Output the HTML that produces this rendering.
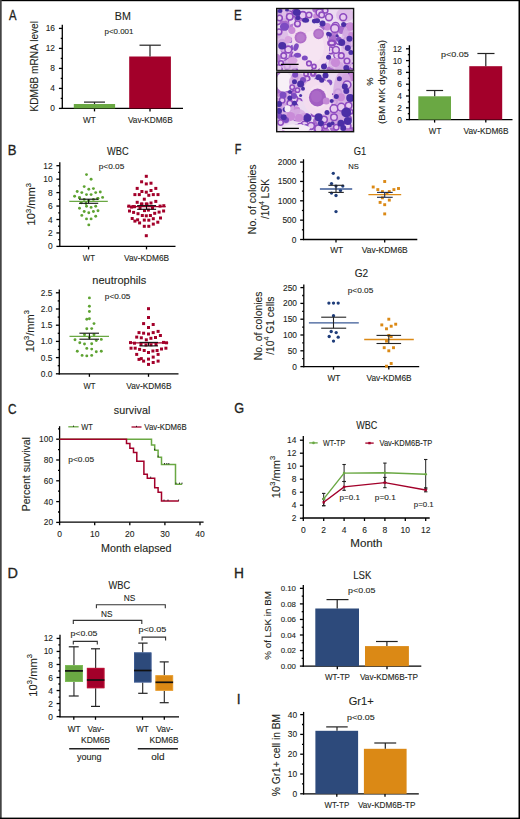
<!DOCTYPE html>
<html><head><meta charset="utf-8"><style>
html,body{margin:0;padding:0;background:#fff;overflow:hidden;width:520px;height:819px;}
svg{display:block;}
text{font-family:"Liberation Sans",sans-serif;stroke:#231f20;stroke-width:0.1px;}
</style></head><body>
<svg width="520" height="819" viewBox="0 0 520 819">
<rect x="0" y="0" width="520" height="819" fill="#fff"/>
<defs>
<clipPath id="m1"><rect x="277.2" y="9" width="75.9" height="61"/></clipPath>
<clipPath id="m2"><rect x="277.2" y="72.8" width="75.9" height="58.4"/></clipPath>
<filter id="bl" x="-5%" y="-5%" width="110%" height="110%"><feGaussianBlur stdDeviation="0.7"/></filter>
</defs>
<g clip-path="url(#m1)"><g filter="url(#bl)">
<rect x="276" y="8" width="79" height="64" fill="#ecdcf1"/>
<ellipse cx="286.61" cy="62.24" rx="3.38" ry="3.38" fill="#a86ccc"/>
<ellipse cx="336.12" cy="38.22" rx="2.8" ry="2.8" fill="#e8cbef" stroke="#8e4cc0" stroke-width="1.54"/>
<ellipse cx="346.57" cy="32.95" rx="4.15" ry="4.15" fill="#b67ad2"/>
<ellipse cx="311.19" cy="54.18" rx="3.65" ry="3.65" fill="#e8cbef" stroke="#8e4cc0" stroke-width="1.75"/>
<ellipse cx="278.42" cy="9.63" rx="4.41" ry="4.41" fill="#a86ccc"/>
<ellipse cx="330.23" cy="70.02" rx="3.79" ry="3.79" fill="#a86ccc"/>
<ellipse cx="350.19" cy="43.38" rx="3.34" ry="3.34" fill="#e8cbef" stroke="#8e4cc0" stroke-width="1.68"/>
<ellipse cx="351.23" cy="67.3" rx="3.61" ry="3.61" fill="#e8cbef" stroke="#8e4cc0" stroke-width="1.76"/>
<ellipse cx="283.9" cy="48.28" rx="3.44" ry="3.44" fill="#b67ad2"/>
<ellipse cx="302.28" cy="54.18" rx="4.4" ry="4.4" fill="#a86ccc"/>
<ellipse cx="316.11" cy="66.25" rx="2.78" ry="2.78" fill="#e8cbef" stroke="#8e4cc0" stroke-width="1.79"/>
<ellipse cx="315.45" cy="68.22" rx="3.64" ry="3.64" fill="#e8cbef" stroke="#8e4cc0" stroke-width="1.54"/>
<ellipse cx="334.75" cy="33.87" rx="3.55" ry="3.55" fill="#b67ad2"/>
<ellipse cx="337.29" cy="55.25" rx="3.49" ry="3.49" fill="#e8cbef" stroke="#8e4cc0" stroke-width="1.35"/>
<ellipse cx="288.93" cy="61.76" rx="3.49" ry="3.49" fill="#e8cbef" stroke="#8e4cc0" stroke-width="1.53"/>
<ellipse cx="300.37" cy="62.29" rx="3.87" ry="3.87" fill="#b67ad2"/>
<ellipse cx="289.46" cy="40.14" rx="2.97" ry="2.97" fill="#7d4cc2"/>
<ellipse cx="318.63" cy="63.06" rx="3.08" ry="3.08" fill="#e8cbef" stroke="#8e4cc0" stroke-width="1.78"/>
<ellipse cx="321.65" cy="37.38" rx="3.12" ry="3.12" fill="#e8cbef" stroke="#8e4cc0" stroke-width="1.78"/>
<ellipse cx="276.45" cy="58.15" rx="4.33" ry="4.33" fill="#b67ad2"/>
<ellipse cx="316.49" cy="16.27" rx="3.31" ry="3.31" fill="#c98bd8"/>
<ellipse cx="314.01" cy="31.34" rx="4.41" ry="4.41" fill="#a86ccc"/>
<ellipse cx="314.31" cy="30.83" rx="3.19" ry="3.19" fill="#e8cbef" stroke="#8e4cc0" stroke-width="1.61"/>
<ellipse cx="324.38" cy="37.32" rx="2.9" ry="2.9" fill="#e8cbef" stroke="#8e4cc0" stroke-width="1.39"/>
<ellipse cx="322.17" cy="63.1" rx="4.2" ry="4.2" fill="#a86ccc"/>
<ellipse cx="278.56" cy="68.39" rx="3.67" ry="3.67" fill="#e8cbef" stroke="#8e4cc0" stroke-width="1.53"/>
<ellipse cx="335.58" cy="26" rx="3.64" ry="3.64" fill="#e8cbef" stroke="#8e4cc0" stroke-width="1.39"/>
<ellipse cx="298.93" cy="18.72" rx="3.72" ry="3.72" fill="#e8cbef" stroke="#8e4cc0" stroke-width="1.63"/>
<ellipse cx="327.21" cy="26.85" rx="3.74" ry="3.74" fill="#c98bd8"/>
<ellipse cx="277.87" cy="32.74" rx="2.87" ry="2.87" fill="#e8cbef" stroke="#8e4cc0" stroke-width="1.35"/>
<ellipse cx="347.09" cy="40.65" rx="3.23" ry="3.23" fill="#e8cbef" stroke="#8e4cc0" stroke-width="1.71"/>
<ellipse cx="277.64" cy="9.14" rx="3.54" ry="3.54" fill="#e8cbef" stroke="#8e4cc0" stroke-width="1.38"/>
<ellipse cx="331.66" cy="51.4" rx="3.33" ry="3.33" fill="#b67ad2"/>
<ellipse cx="339.03" cy="41.06" rx="3.39" ry="3.39" fill="#e8cbef" stroke="#8e4cc0" stroke-width="1.5"/>
<ellipse cx="321.49" cy="28.56" rx="3.09" ry="3.09" fill="#a86ccc"/>
<ellipse cx="285.93" cy="21.58" rx="2.72" ry="2.72" fill="#e8cbef" stroke="#8e4cc0" stroke-width="1.34"/>
<ellipse cx="348.46" cy="27.06" rx="3.35" ry="3.35" fill="#e8cbef" stroke="#8e4cc0" stroke-width="1.37"/>
<ellipse cx="320.3" cy="62.43" rx="3.33" ry="3.33" fill="#b67ad2"/>
<ellipse cx="312.41" cy="60.99" rx="2.98" ry="2.98" fill="#7d4cc2"/>
<ellipse cx="325.21" cy="10.4" rx="2.64" ry="2.64" fill="#e8cbef" stroke="#8e4cc0" stroke-width="1.59"/>
<ellipse cx="346.83" cy="45.85" rx="3.77" ry="3.77" fill="#e8cbef" stroke="#8e4cc0" stroke-width="1.5"/>
<ellipse cx="315.82" cy="9.1" rx="3.6" ry="3.6" fill="#a86ccc"/>
<ellipse cx="277.43" cy="20.85" rx="3.74" ry="3.74" fill="#e8cbef" stroke="#8e4cc0" stroke-width="1.69"/>
<ellipse cx="302.79" cy="21.63" rx="4.26" ry="4.26" fill="#b67ad2"/>
<ellipse cx="303.16" cy="64.47" rx="3.73" ry="3.73" fill="#b67ad2"/>
<ellipse cx="294.54" cy="54.43" rx="2.64" ry="2.64" fill="#e8cbef" stroke="#8e4cc0" stroke-width="1.76"/>
<ellipse cx="292.82" cy="56.58" rx="4.26" ry="4.26" fill="#a86ccc"/>
<ellipse cx="302.77" cy="15.29" rx="3.68" ry="3.68" fill="#e8cbef" stroke="#8e4cc0" stroke-width="1.69"/>
<ellipse cx="332.49" cy="39.28" rx="4.16" ry="4.16" fill="#a86ccc"/>
<ellipse cx="279.09" cy="12.68" rx="2.99" ry="2.99" fill="#7d4cc2"/>
<ellipse cx="341.45" cy="29.82" rx="4.17" ry="4.17" fill="#a86ccc"/>
<ellipse cx="282.06" cy="43.22" rx="4.43" ry="4.43" fill="#a86ccc"/>
<ellipse cx="346.37" cy="44.12" rx="2.66" ry="2.66" fill="#7d4cc2"/>
<ellipse cx="297.9" cy="58.37" rx="3.02" ry="3.02" fill="#b67ad2"/>
<ellipse cx="277.15" cy="34.47" rx="4.18" ry="4.18" fill="#c98bd8"/>
<ellipse cx="294.93" cy="71.24" rx="2.76" ry="2.76" fill="#e8cbef" stroke="#8e4cc0" stroke-width="1.38"/>
<ellipse cx="295.07" cy="55.62" rx="3.74" ry="3.74" fill="#e8cbef" stroke="#8e4cc0" stroke-width="1.49"/>
<ellipse cx="352.65" cy="66.19" rx="2.86" ry="2.86" fill="#e8cbef" stroke="#8e4cc0" stroke-width="1.54"/>
<ellipse cx="283.91" cy="49.73" rx="2.42" ry="2.42" fill="#e8cbef" stroke="#8e4cc0" stroke-width="1.79"/>
<ellipse cx="299.35" cy="46.18" rx="3.04" ry="3.04" fill="#e8cbef" stroke="#8e4cc0" stroke-width="1.33"/>
<ellipse cx="348.16" cy="70.07" rx="2.31" ry="2.31" fill="#7d4cc2"/>
<ellipse cx="293" cy="47.54" rx="2.74" ry="2.74" fill="#7d4cc2"/>
<ellipse cx="330.37" cy="50.36" rx="3.28" ry="3.28" fill="#e8cbef" stroke="#8e4cc0" stroke-width="1.45"/>
<ellipse cx="295.46" cy="13.21" rx="3.82" ry="3.82" fill="#e8cbef" stroke="#8e4cc0" stroke-width="1.52"/>
<ellipse cx="327.51" cy="49.18" rx="2.59" ry="2.59" fill="#7d4cc2"/>
<ellipse cx="300.24" cy="28.94" rx="3.53" ry="3.53" fill="#e8cbef" stroke="#8e4cc0" stroke-width="1.75"/>
<ellipse cx="299.92" cy="29.4" rx="3.87" ry="3.87" fill="#b67ad2"/>
<ellipse cx="283.27" cy="22.09" rx="3.6" ry="3.6" fill="#a86ccc"/>
<ellipse cx="319.55" cy="12.54" rx="3.4" ry="3.4" fill="#e8cbef" stroke="#8e4cc0" stroke-width="1.45"/>
<ellipse cx="338.58" cy="39.57" rx="2.35" ry="2.35" fill="#7d4cc2"/>
<ellipse cx="315.61" cy="58.88" rx="3.84" ry="3.84" fill="#e8cbef" stroke="#8e4cc0" stroke-width="1.39"/>
<ellipse cx="337.32" cy="71.03" rx="3.48" ry="3.48" fill="#c98bd8"/>
<ellipse cx="332.04" cy="61.42" rx="3.19" ry="3.19" fill="#c98bd8"/>
<ellipse cx="287.19" cy="66.27" rx="2.84" ry="2.84" fill="#e8cbef" stroke="#8e4cc0" stroke-width="1.75"/>
<ellipse cx="339.5" cy="66.06" rx="4.12" ry="4.12" fill="#b67ad2"/>
<ellipse cx="292.23" cy="27.13" rx="3.07" ry="3.07" fill="#b67ad2"/>
<ellipse cx="295.54" cy="57.78" rx="3.67" ry="3.67" fill="#a86ccc"/>
<ellipse cx="319.39" cy="42.65" rx="2.65" ry="2.65" fill="#7d4cc2"/>
<ellipse cx="307.26" cy="29.67" rx="2.52" ry="2.52" fill="#e8cbef" stroke="#8e4cc0" stroke-width="1.62"/>
<ellipse cx="308.92" cy="44.52" rx="3.08" ry="3.08" fill="#e8cbef" stroke="#8e4cc0" stroke-width="1.37"/>
<ellipse cx="285.89" cy="24.58" rx="3.6" ry="3.6" fill="#a86ccc"/>
<ellipse cx="289.6" cy="13.71" rx="2.8" ry="2.8" fill="#e8cbef" stroke="#8e4cc0" stroke-width="1.46"/>
<ellipse cx="346.55" cy="66.91" rx="2.84" ry="2.84" fill="#7d4cc2"/>
<ellipse cx="293.83" cy="28.03" rx="4.43" ry="4.43" fill="#b67ad2"/>
<ellipse cx="308.57" cy="43.87" rx="3.12" ry="3.12" fill="#7d4cc2"/>
<ellipse cx="284" cy="15" rx="7" ry="6" fill="#dcb8e6" opacity="0.8"/>
<ellipse cx="345" cy="15" rx="9" ry="7" fill="#dcb8e6" opacity="0.8"/>
<ellipse cx="283" cy="40" rx="6" ry="12" fill="#dcb8e6" opacity="0.8"/>
<ellipse cx="348" cy="45" rx="7" ry="20" fill="#dcb8e6" opacity="0.8"/>
<ellipse cx="340" cy="64" rx="12" ry="6" fill="#dcb8e6" opacity="0.8"/>
<ellipse cx="290" cy="65" rx="10" ry="5" fill="#dcb8e6" opacity="0.8"/>
<path d="M294,23 C302,19 312,22 320,27 C327,32 330,42 329,52 C328,60 325,67 318,69 L300,69 C295,64 293,56 293,48 C292,40 291,30 294,23 Z" fill="#f3dcef"/>
<ellipse cx="312" cy="47" rx="12" ry="16" fill="#f6e6f3" opacity="0.8"/>
<ellipse cx="300.6" cy="37.6" rx="6" ry="6" fill="#b06ec8"/>
<ellipse cx="300.6" cy="37.6" rx="4.2" ry="4.2" fill="#bd80d0" opacity="0.7"/>
<ellipse cx="318.6" cy="33.8" rx="5.4" ry="5.4" fill="#b06ec8"/>
<ellipse cx="318.6" cy="33.8" rx="3.6" ry="3.6" fill="#bd80d0" opacity="0.7"/>
<ellipse cx="291.8" cy="30.3" rx="3.6" ry="3.6" fill="#c98bd8"/>
<ellipse cx="288.3" cy="39.5" rx="3.6" ry="3.6" fill="#d8a4e0"/>
<ellipse cx="292.5" cy="60.5" rx="5" ry="3.6" fill="#d8a4e0"/>
<ellipse cx="335.5" cy="62.6" rx="4.6" ry="4.6" fill="#c98bd8"/>
<ellipse cx="350.2" cy="26.5" rx="4.2" ry="4.2" fill="#c98bd8"/>
<ellipse cx="351" cy="36" rx="3" ry="4" fill="#c98bd8"/>
<ellipse cx="289.8" cy="16.8" rx="3.28" ry="3.28" fill="#e8cbef" stroke="#8e4cc0" stroke-width="1.6"/>
<ellipse cx="297.5" cy="23.8" rx="2.8" ry="2.8" fill="#e8cbef" stroke="#8e4cc0" stroke-width="1.6"/>
<ellipse cx="279.5" cy="18" rx="2.8" ry="2.8" fill="#e8cbef" stroke="#8e4cc0" stroke-width="1.6"/>
<ellipse cx="288.3" cy="49.5" rx="3.4" ry="3.4" fill="#e8cbef" stroke="#8e4cc0" stroke-width="1.6"/>
<ellipse cx="283.7" cy="55.7" rx="2.8" ry="2.8" fill="#e8cbef" stroke="#8e4cc0" stroke-width="1.6"/>
<ellipse cx="309" cy="63.4" rx="2.32" ry="2.32" fill="#e8cbef" stroke="#8e4cc0" stroke-width="1.6"/>
<ellipse cx="279" cy="31.8" rx="2.8" ry="2.8" fill="#e8cbef" stroke="#8e4cc0" stroke-width="1.6"/>
<ellipse cx="309" cy="15" rx="2.8" ry="2.8" fill="#e8cbef" stroke="#8e4cc0" stroke-width="1.6"/>
<ellipse cx="334.8" cy="28.4" rx="4" ry="4" fill="#e8cbef" stroke="#8e4cc0" stroke-width="1.6"/>
<ellipse cx="335.9" cy="49.9" rx="3.4" ry="3.4" fill="#e8cbef" stroke="#8e4cc0" stroke-width="1.6"/>
<ellipse cx="341.3" cy="55.7" rx="2.8" ry="2.8" fill="#e8cbef" stroke="#8e4cc0" stroke-width="1.6"/>
<ellipse cx="329" cy="17.2" rx="3.4" ry="3.4" fill="#e8cbef" stroke="#8e4cc0" stroke-width="1.6"/>
<ellipse cx="321.7" cy="14.9" rx="2.8" ry="2.8" fill="#e8cbef" stroke="#8e4cc0" stroke-width="1.6"/>
<ellipse cx="343.2" cy="17.2" rx="3.4" ry="3.4" fill="#e8cbef" stroke="#8e4cc0" stroke-width="1.6"/>
<ellipse cx="347" cy="61" rx="2.8" ry="2.8" fill="#e8cbef" stroke="#8e4cc0" stroke-width="1.6"/>
<ellipse cx="281" cy="63" rx="2.32" ry="2.32" fill="#e8cbef" stroke="#8e4cc0" stroke-width="1.6"/>
<ellipse cx="314" cy="66.5" rx="2.08" ry="2.08" fill="#e8cbef" stroke="#8e4cc0" stroke-width="1.6"/>
<ellipse cx="331.7" cy="43" rx="3.45" ry="2.45" fill="#e8cbef" stroke="#8e4cc0" stroke-width="2.3"/>
<ellipse cx="284.5" cy="26.8" rx="4.6" ry="4" fill="#7d4cc2"/>
<ellipse cx="296" cy="47.2" rx="2.5" ry="4" fill="#7d4cc2" transform="rotate(20 296 47.2)"/>
<ellipse cx="297.5" cy="55.3" rx="3.6" ry="2.5" fill="#7d4cc2"/>
<ellipse cx="304.8" cy="58" rx="3" ry="2.5" fill="#7d4cc2"/>
<ellipse cx="296.8" cy="12.6" rx="4" ry="3.5" fill="#4b2fa6"/>
<ellipse cx="297.9" cy="18" rx="2.5" ry="2.3" fill="#4b2fa6"/>
<ellipse cx="305.6" cy="20.3" rx="3.5" ry="2.5" fill="#4b2fa6"/>
<ellipse cx="314.5" cy="21.1" rx="2.6" ry="2.3" fill="#4b2fa6"/>
<ellipse cx="282.2" cy="45.7" rx="4" ry="3.8" fill="#4b2fa6"/>
<ellipse cx="317.1" cy="20.7" rx="3" ry="2.5" fill="#4b2fa6"/>
<ellipse cx="322.5" cy="23.4" rx="3" ry="3" fill="#4b2fa6"/>
<ellipse cx="329" cy="34.2" rx="3" ry="2.2" fill="#4b2fa6" transform="rotate(30 329 34.2)"/>
<ellipse cx="341.7" cy="42.6" rx="3.5" ry="3.5" fill="#4b2fa6"/>
<ellipse cx="343.6" cy="24.5" rx="2.5" ry="2.5" fill="#4b2fa6"/>
<ellipse cx="337" cy="35.7" rx="1.5" ry="1.5" fill="#4b2fa6"/>
<ellipse cx="347.8" cy="48" rx="3" ry="3" fill="#4b2fa6"/>
<ellipse cx="350.9" cy="52.6" rx="2.5" ry="2.5" fill="#4b2fa6"/>
<ellipse cx="324" cy="66.5" rx="3" ry="3" fill="#4b2fa6"/>
<ellipse cx="328.6" cy="57.2" rx="2.5" ry="2.5" fill="#4b2fa6"/>
<ellipse cx="346.3" cy="68" rx="3" ry="3" fill="#4b2fa6"/>
<ellipse cx="349.4" cy="38.8" rx="3" ry="3" fill="#4b2fa6"/>
<ellipse cx="280" cy="11" rx="2.5" ry="2" fill="#4b2fa6"/>
<ellipse cx="287" cy="10" rx="2" ry="1.6" fill="#4b2fa6"/>
</g>
<line x1="281" y1="64.3" x2="298.6" y2="64.3" stroke="#000" stroke-width="1.3"/>
</g>
<g clip-path="url(#m2)"><g filter="url(#bl)">
<rect x="276" y="71" width="79" height="64" fill="#ecdcf1"/>
<ellipse cx="351.53" cy="130.71" rx="2.55" ry="2.55" fill="#e8cbef" stroke="#8e4cc0" stroke-width="1.72"/>
<ellipse cx="334.14" cy="113.19" rx="3.29" ry="3.29" fill="#e8cbef" stroke="#8e4cc0" stroke-width="1.6"/>
<ellipse cx="321.92" cy="80.98" rx="2.98" ry="2.98" fill="#e8cbef" stroke="#8e4cc0" stroke-width="1.66"/>
<ellipse cx="354.59" cy="130.81" rx="3.67" ry="3.67" fill="#a86ccc"/>
<ellipse cx="347.2" cy="125.88" rx="3.63" ry="3.63" fill="#e8cbef" stroke="#8e4cc0" stroke-width="1.75"/>
<ellipse cx="309.47" cy="126.7" rx="2.82" ry="2.82" fill="#e8cbef" stroke="#8e4cc0" stroke-width="1.42"/>
<ellipse cx="289.96" cy="81.94" rx="3.54" ry="3.54" fill="#b67ad2"/>
<ellipse cx="329.28" cy="82.46" rx="3" ry="3" fill="#7d4cc2"/>
<ellipse cx="334.02" cy="128.12" rx="4.18" ry="4.18" fill="#a86ccc"/>
<ellipse cx="304.59" cy="125.11" rx="3.79" ry="3.79" fill="#e8cbef" stroke="#8e4cc0" stroke-width="1.5"/>
<ellipse cx="334.35" cy="112.26" rx="2.89" ry="2.89" fill="#e8cbef" stroke="#8e4cc0" stroke-width="1.55"/>
<ellipse cx="316.72" cy="121.16" rx="3.68" ry="3.68" fill="#a86ccc"/>
<ellipse cx="303.71" cy="116.73" rx="3.68" ry="3.68" fill="#b67ad2"/>
<ellipse cx="293.52" cy="91.45" rx="3.25" ry="3.25" fill="#b67ad2"/>
<ellipse cx="297.18" cy="128.42" rx="3.72" ry="3.72" fill="#e8cbef" stroke="#8e4cc0" stroke-width="1.65"/>
<ellipse cx="315.84" cy="103.62" rx="3.88" ry="3.88" fill="#a86ccc"/>
<ellipse cx="333.74" cy="101.8" rx="3.32" ry="3.32" fill="#e8cbef" stroke="#8e4cc0" stroke-width="1.74"/>
<ellipse cx="337.96" cy="92.51" rx="3.46" ry="3.46" fill="#e8cbef" stroke="#8e4cc0" stroke-width="1.8"/>
<ellipse cx="284.39" cy="107.19" rx="3.25" ry="3.25" fill="#e8cbef" stroke="#8e4cc0" stroke-width="1.64"/>
<ellipse cx="348.35" cy="118.53" rx="2.79" ry="2.79" fill="#e8cbef" stroke="#8e4cc0" stroke-width="1.71"/>
<ellipse cx="350.54" cy="74.8" rx="2.96" ry="2.96" fill="#7d4cc2"/>
<ellipse cx="280.49" cy="93.69" rx="2.65" ry="2.65" fill="#e8cbef" stroke="#8e4cc0" stroke-width="1.36"/>
<ellipse cx="281.33" cy="73.58" rx="2.57" ry="2.57" fill="#7d4cc2"/>
<ellipse cx="286.1" cy="129.97" rx="3.78" ry="3.78" fill="#c98bd8"/>
<ellipse cx="306.46" cy="73.72" rx="2.35" ry="2.35" fill="#7d4cc2"/>
<ellipse cx="278.87" cy="92.68" rx="4.11" ry="4.11" fill="#c98bd8"/>
<ellipse cx="298.6" cy="101.79" rx="3.22" ry="3.22" fill="#e8cbef" stroke="#8e4cc0" stroke-width="1.6"/>
<ellipse cx="279.62" cy="87.63" rx="3.42" ry="3.42" fill="#e8cbef" stroke="#8e4cc0" stroke-width="1.38"/>
<ellipse cx="351.74" cy="76.89" rx="4.26" ry="4.26" fill="#c98bd8"/>
<ellipse cx="311.38" cy="126.11" rx="3.31" ry="3.31" fill="#e8cbef" stroke="#8e4cc0" stroke-width="1.5"/>
<ellipse cx="316.67" cy="80.06" rx="2.46" ry="2.46" fill="#7d4cc2"/>
<ellipse cx="323.88" cy="97.44" rx="3.34" ry="3.34" fill="#e8cbef" stroke="#8e4cc0" stroke-width="1.37"/>
<ellipse cx="280.49" cy="73.11" rx="2.62" ry="2.62" fill="#e8cbef" stroke="#8e4cc0" stroke-width="1.62"/>
<ellipse cx="316.15" cy="132.96" rx="3.19" ry="3.19" fill="#7d4cc2"/>
<ellipse cx="294.37" cy="99.02" rx="3.26" ry="3.26" fill="#e8cbef" stroke="#8e4cc0" stroke-width="1.61"/>
<ellipse cx="339.22" cy="115.7" rx="3.07" ry="3.07" fill="#e8cbef" stroke="#8e4cc0" stroke-width="1.56"/>
<ellipse cx="276.38" cy="73.24" rx="2.61" ry="2.61" fill="#e8cbef" stroke="#8e4cc0" stroke-width="1.66"/>
<ellipse cx="295.03" cy="77.29" rx="2.9" ry="2.9" fill="#e8cbef" stroke="#8e4cc0" stroke-width="1.41"/>
<ellipse cx="317.14" cy="100.26" rx="3.43" ry="3.43" fill="#e8cbef" stroke="#8e4cc0" stroke-width="1.41"/>
<ellipse cx="347.62" cy="131.68" rx="3.65" ry="3.65" fill="#b67ad2"/>
<ellipse cx="277.68" cy="108.25" rx="3.13" ry="3.13" fill="#7d4cc2"/>
<ellipse cx="321.93" cy="129" rx="3.72" ry="3.72" fill="#c98bd8"/>
<ellipse cx="317.02" cy="129.05" rx="3.43" ry="3.43" fill="#a86ccc"/>
<ellipse cx="300.35" cy="126.08" rx="2.74" ry="2.74" fill="#e8cbef" stroke="#8e4cc0" stroke-width="1.4"/>
<ellipse cx="337.25" cy="123" rx="3.09" ry="3.09" fill="#b67ad2"/>
<ellipse cx="314.38" cy="84.12" rx="3.11" ry="3.11" fill="#a86ccc"/>
<ellipse cx="277.91" cy="90.27" rx="3.33" ry="3.33" fill="#a86ccc"/>
<ellipse cx="291.2" cy="107.01" rx="3.06" ry="3.06" fill="#e8cbef" stroke="#8e4cc0" stroke-width="1.68"/>
<ellipse cx="307.21" cy="78.67" rx="2.54" ry="2.54" fill="#e8cbef" stroke="#8e4cc0" stroke-width="1.73"/>
<ellipse cx="326.64" cy="131.46" rx="3.04" ry="3.04" fill="#b67ad2"/>
<ellipse cx="313.16" cy="73.72" rx="3.44" ry="3.44" fill="#a86ccc"/>
<ellipse cx="287.18" cy="94.62" rx="3.6" ry="3.6" fill="#e8cbef" stroke="#8e4cc0" stroke-width="1.66"/>
<ellipse cx="333.51" cy="97.39" rx="3.44" ry="3.44" fill="#e8cbef" stroke="#8e4cc0" stroke-width="1.5"/>
<ellipse cx="288.36" cy="108.58" rx="4.04" ry="4.04" fill="#b67ad2"/>
<ellipse cx="348.57" cy="107.91" rx="3.14" ry="3.14" fill="#a86ccc"/>
<ellipse cx="289.91" cy="105.35" rx="4.35" ry="4.35" fill="#c98bd8"/>
<ellipse cx="348" cy="113.93" rx="3.06" ry="3.06" fill="#a86ccc"/>
<ellipse cx="306.86" cy="115.63" rx="2.53" ry="2.53" fill="#7d4cc2"/>
<ellipse cx="289.63" cy="89.08" rx="3.69" ry="3.69" fill="#e8cbef" stroke="#8e4cc0" stroke-width="1.78"/>
<ellipse cx="309.47" cy="91.72" rx="3.28" ry="3.28" fill="#e8cbef" stroke="#8e4cc0" stroke-width="1.38"/>
<ellipse cx="288.44" cy="130.69" rx="3.7" ry="3.7" fill="#e8cbef" stroke="#8e4cc0" stroke-width="1.48"/>
<ellipse cx="336.38" cy="116.92" rx="3.38" ry="3.38" fill="#e8cbef" stroke="#8e4cc0" stroke-width="1.7"/>
<ellipse cx="306.28" cy="117.42" rx="2.65" ry="2.65" fill="#e8cbef" stroke="#8e4cc0" stroke-width="1.44"/>
<ellipse cx="296.04" cy="117.07" rx="3.4" ry="3.4" fill="#e8cbef" stroke="#8e4cc0" stroke-width="1.48"/>
<ellipse cx="319.26" cy="115.94" rx="2.28" ry="2.28" fill="#7d4cc2"/>
<ellipse cx="340.75" cy="116.72" rx="3.28" ry="3.28" fill="#b67ad2"/>
<ellipse cx="306.22" cy="126.5" rx="2.51" ry="2.51" fill="#7d4cc2"/>
<ellipse cx="317.36" cy="128.12" rx="2.86" ry="2.86" fill="#e8cbef" stroke="#8e4cc0" stroke-width="1.35"/>
<ellipse cx="307.83" cy="84.64" rx="3.58" ry="3.58" fill="#c98bd8"/>
<ellipse cx="345.89" cy="77.33" rx="4.15" ry="4.15" fill="#c98bd8"/>
<ellipse cx="297.68" cy="129.05" rx="3.73" ry="3.73" fill="#b67ad2"/>
<ellipse cx="286.89" cy="109.58" rx="2.84" ry="2.84" fill="#e8cbef" stroke="#8e4cc0" stroke-width="1.58"/>
<ellipse cx="312.9" cy="83.91" rx="2.27" ry="2.27" fill="#7d4cc2"/>
<ellipse cx="276.24" cy="101.58" rx="3.99" ry="3.99" fill="#b67ad2"/>
<ellipse cx="314.32" cy="113.51" rx="2.87" ry="2.87" fill="#e8cbef" stroke="#8e4cc0" stroke-width="1.55"/>
<ellipse cx="278.17" cy="76.03" rx="3.26" ry="3.26" fill="#a86ccc"/>
<ellipse cx="296.17" cy="110.38" rx="4.08" ry="4.08" fill="#c98bd8"/>
<ellipse cx="288.84" cy="95.04" rx="3.03" ry="3.03" fill="#e8cbef" stroke="#8e4cc0" stroke-width="1.31"/>
<ellipse cx="320.04" cy="131.92" rx="3.25" ry="3.25" fill="#e8cbef" stroke="#8e4cc0" stroke-width="1.49"/>
<ellipse cx="310.98" cy="125.84" rx="3.37" ry="3.37" fill="#e8cbef" stroke="#8e4cc0" stroke-width="1.54"/>
<ellipse cx="318.55" cy="128.63" rx="3.65" ry="3.65" fill="#e8cbef" stroke="#8e4cc0" stroke-width="1.45"/>
<ellipse cx="327.06" cy="121.14" rx="3.59" ry="3.59" fill="#c98bd8"/>
<ellipse cx="316.17" cy="84.27" rx="4.27" ry="4.27" fill="#c98bd8"/>
<ellipse cx="339.03" cy="110.62" rx="2.84" ry="2.84" fill="#e8cbef" stroke="#8e4cc0" stroke-width="1.53"/>
<ellipse cx="294.34" cy="88.48" rx="2.31" ry="2.31" fill="#7d4cc2"/>
<ellipse cx="284" cy="82" rx="8" ry="10" fill="#f7f0f7"/>
<ellipse cx="298" cy="82" rx="9" ry="9" fill="#d6ace2" opacity="0.85"/>
<ellipse cx="285" cy="108" rx="9" ry="16" fill="#d6ace2" opacity="0.85"/>
<ellipse cx="343" cy="95" rx="10" ry="25" fill="#d6ace2" opacity="0.85"/>
<ellipse cx="330" cy="120" rx="14" ry="8" fill="#d6ace2" opacity="0.85"/>
<ellipse cx="298" cy="115" rx="8" ry="6" fill="#d6ace2" opacity="0.85"/>
<path d="M307,82 C313,78 323,78 329,83 C333,90 333,103 330,110 C326,115 318,116 312,114 C306,111 303,104 303,96 C303,89 304,85 307,82 Z" fill="#f3dcef"/>
<ellipse cx="318" cy="97" rx="10" ry="12" fill="#f5e3f2" opacity="0.7"/>
<ellipse cx="317.5" cy="97.5" rx="8.6" ry="9" fill="#a25ec2"/>
<ellipse cx="316.5" cy="96.5" rx="5.5" ry="6" fill="#ae6cc8" opacity="0.8"/>
<ellipse cx="326.3" cy="101" rx="3.5" ry="3.5" fill="#c48ad6"/>
<ellipse cx="290.6" cy="116.4" rx="4.5" ry="4.5" fill="#c98bd8"/>
<ellipse cx="299" cy="118" rx="4" ry="4" fill="#c98bd8"/>
<ellipse cx="340.9" cy="97.2" rx="4" ry="4" fill="#c98bd8"/>
<ellipse cx="295.2" cy="74.8" rx="3" ry="3" fill="#7d4cc2"/>
<ellipse cx="292.2" cy="87.2" rx="2.24" ry="2.24" fill="#e8cbef" stroke="#8e4cc0" stroke-width="1.5"/>
<ellipse cx="297.5" cy="90.2" rx="2.12" ry="2.12" fill="#e8cbef" stroke="#8e4cc0" stroke-width="1.5"/>
<ellipse cx="282.2" cy="100.2" rx="2.7" ry="2.7" fill="#e8cbef" stroke="#8e4cc0" stroke-width="1.5"/>
<ellipse cx="289.8" cy="103.3" rx="2.7" ry="2.7" fill="#e8cbef" stroke="#8e4cc0" stroke-width="1.5"/>
<ellipse cx="280.6" cy="122.5" rx="2.7" ry="2.7" fill="#e8cbef" stroke="#8e4cc0" stroke-width="1.5"/>
<ellipse cx="347" cy="84.8" rx="3.85" ry="3.85" fill="#e8cbef" stroke="#8e4cc0" stroke-width="1.5"/>
<ellipse cx="334" cy="108.7" rx="3.85" ry="3.85" fill="#e8cbef" stroke="#8e4cc0" stroke-width="1.5"/>
<ellipse cx="341.3" cy="107.2" rx="3.85" ry="3.85" fill="#e8cbef" stroke="#8e4cc0" stroke-width="1.5"/>
<ellipse cx="348.6" cy="105.6" rx="3.27" ry="3.27" fill="#e8cbef" stroke="#8e4cc0" stroke-width="1.5"/>
<ellipse cx="350.9" cy="111.8" rx="2.12" ry="2.12" fill="#e8cbef" stroke="#8e4cc0" stroke-width="1.5"/>
<ellipse cx="324" cy="119.5" rx="3.27" ry="3.27" fill="#e8cbef" stroke="#8e4cc0" stroke-width="1.5"/>
<ellipse cx="334" cy="117.2" rx="3.27" ry="3.27" fill="#e8cbef" stroke="#8e4cc0" stroke-width="1.5"/>
<ellipse cx="336.3" cy="127.2" rx="2.7" ry="2.7" fill="#e8cbef" stroke="#8e4cc0" stroke-width="1.5"/>
<ellipse cx="325.5" cy="126.4" rx="2.12" ry="2.12" fill="#e8cbef" stroke="#8e4cc0" stroke-width="1.5"/>
<ellipse cx="306" cy="74" rx="2.12" ry="2.12" fill="#e8cbef" stroke="#8e4cc0" stroke-width="1.5"/>
<ellipse cx="313" cy="73.5" rx="1.89" ry="1.89" fill="#e8cbef" stroke="#8e4cc0" stroke-width="1.5"/>
<ellipse cx="283" cy="95" rx="3.5" ry="3.5" fill="#7d4cc2"/>
<ellipse cx="279.5" cy="116" rx="3" ry="3" fill="#7d4cc2"/>
<ellipse cx="286" cy="120" rx="3" ry="3" fill="#7d4cc2"/>
<ellipse cx="303" cy="80" rx="3" ry="3" fill="#7d4cc2"/>
<ellipse cx="294" cy="96" rx="3" ry="3" fill="#7d4cc2"/>
<ellipse cx="300.6" cy="84.1" rx="3.5" ry="3.5" fill="#4b2fa6"/>
<ellipse cx="294.5" cy="81.8" rx="2.5" ry="2.5" fill="#4b2fa6"/>
<ellipse cx="303" cy="88.7" rx="2" ry="2" fill="#4b2fa6"/>
<ellipse cx="279" cy="104" rx="3" ry="3" fill="#4b2fa6"/>
<ellipse cx="289.8" cy="98" rx="2.5" ry="2.5" fill="#4b2fa6"/>
<ellipse cx="294.5" cy="103.3" rx="2.5" ry="2.5" fill="#4b2fa6"/>
<ellipse cx="285.2" cy="109.5" rx="2.5" ry="2.5" fill="#4b2fa6"/>
<ellipse cx="283.7" cy="117.2" rx="3" ry="3" fill="#4b2fa6"/>
<ellipse cx="279" cy="111" rx="3" ry="3" fill="#4b2fa6"/>
<ellipse cx="307.5" cy="118" rx="4" ry="4" fill="#4b2fa6"/>
<ellipse cx="300.6" cy="95.6" rx="1.5" ry="1.5" fill="#4b2fa6"/>
<ellipse cx="318.6" cy="77.2" rx="3" ry="3" fill="#4b2fa6"/>
<ellipse cx="325.5" cy="75.6" rx="3" ry="3" fill="#4b2fa6"/>
<ellipse cx="321.7" cy="80.2" rx="2.5" ry="2.5" fill="#4b2fa6"/>
<ellipse cx="339.4" cy="78.7" rx="2.5" ry="2.5" fill="#4b2fa6"/>
<ellipse cx="344.8" cy="86.4" rx="3" ry="3" fill="#4b2fa6"/>
<ellipse cx="346.3" cy="91" rx="3" ry="3" fill="#4b2fa6"/>
<ellipse cx="336.3" cy="96.4" rx="2.5" ry="2.5" fill="#4b2fa6"/>
<ellipse cx="350.2" cy="98" rx="4" ry="4" fill="#4b2fa6"/>
<ellipse cx="331.7" cy="101" rx="2" ry="2" fill="#4b2fa6"/>
<ellipse cx="346.3" cy="112.5" rx="5" ry="5" fill="#4b2fa6"/>
<ellipse cx="318.6" cy="117.2" rx="4" ry="4" fill="#4b2fa6"/>
<ellipse cx="320.9" cy="123.3" rx="3" ry="3" fill="#4b2fa6"/>
<ellipse cx="329.4" cy="124.8" rx="2.5" ry="2.5" fill="#4b2fa6"/>
<ellipse cx="340.9" cy="123.3" rx="3.5" ry="3.5" fill="#4b2fa6"/>
<ellipse cx="347.8" cy="121" rx="4" ry="4" fill="#4b2fa6"/>
<ellipse cx="343.2" cy="127.9" rx="3" ry="3" fill="#4b2fa6"/>
<ellipse cx="327" cy="112.5" rx="2.5" ry="2.5" fill="#4b2fa6"/>
<ellipse cx="332.5" cy="123.3" rx="2" ry="2" fill="#4b2fa6"/>
<ellipse cx="290" cy="92" rx="2" ry="2" fill="#4b2fa6"/>
<ellipse cx="296" cy="128.5" rx="14" ry="4.2" fill="#f5ecf5"/>
<ellipse cx="287.5" cy="108.7" rx="3" ry="3.4" fill="#f6eef6"/>
<ellipse cx="301" cy="104" rx="3" ry="3" fill="#eedcf0"/>
</g>
<line x1="282.2" y1="128.4" x2="298.9" y2="128.4" stroke="#000" stroke-width="1.3"/>
</g>
<rect x="276.7" y="8.5" width="76.9" height="62" fill="none" stroke="#111" stroke-width="1.4"/>
<rect x="276.7" y="72.3" width="76.9" height="59.4" fill="none" stroke="#111" stroke-width="1.4"/>
<rect x="276" y="70.6" width="78.3" height="1.2" fill="#555"/>
<text x="8.9" y="19.6" font-size="13.8" text-anchor="start" fill="#231f20" textLength="7.52" lengthAdjust="spacingAndGlyphs" style="stroke-width:0.3px">A</text>
<text x="7.75" y="154.5" font-size="13.8" text-anchor="start" fill="#231f20" textLength="8.73" lengthAdjust="spacingAndGlyphs" style="stroke-width:0.3px">B</text>
<text x="8.01" y="413.8" font-size="13.8" text-anchor="start" fill="#231f20" textLength="8.53" lengthAdjust="spacingAndGlyphs" style="stroke-width:0.3px">C</text>
<text x="7.64" y="577.8" font-size="13.8" text-anchor="start" fill="#231f20" textLength="10.44" lengthAdjust="spacingAndGlyphs" style="stroke-width:0.3px">D</text>
<text x="233.98" y="19.9" font-size="13.8" text-anchor="start" fill="#231f20" textLength="7.71" lengthAdjust="spacingAndGlyphs" style="stroke-width:0.3px">E</text>
<text x="234.63" y="154.1" font-size="13.8" text-anchor="start" fill="#231f20" textLength="6.61" lengthAdjust="spacingAndGlyphs" style="stroke-width:0.3px">F</text>
<text x="234.27" y="413.4" font-size="13.8" text-anchor="start" fill="#231f20" textLength="9.86" lengthAdjust="spacingAndGlyphs" style="stroke-width:0.3px">G</text>
<text x="234.1" y="577.7" font-size="13.8" text-anchor="start" fill="#231f20" textLength="9.93" lengthAdjust="spacingAndGlyphs" style="stroke-width:0.3px">H</text>
<text x="236.7" y="704.3" font-size="13.8" text-anchor="start" fill="#231f20" style="stroke-width:0.3px">I</text>
<line x1="62.3" y1="24.8" x2="62.3" y2="109" stroke="#000" stroke-width="1.3"/>
<line x1="58.9" y1="108.4" x2="62.3" y2="108.4" stroke="#000" stroke-width="1.3"/>
<text x="55" y="111.42" font-size="8.4" text-anchor="end" fill="#231f20" >0</text>
<line x1="58.9" y1="88.4" x2="62.3" y2="88.4" stroke="#000" stroke-width="1.3"/>
<text x="55" y="91.42" font-size="8.4" text-anchor="end" fill="#231f20" >4</text>
<line x1="58.9" y1="68.4" x2="62.3" y2="68.4" stroke="#000" stroke-width="1.3"/>
<text x="55" y="71.42" font-size="8.4" text-anchor="end" fill="#231f20" >8</text>
<line x1="58.9" y1="48.4" x2="62.3" y2="48.4" stroke="#000" stroke-width="1.3"/>
<text x="55" y="51.42" font-size="8.4" text-anchor="end" fill="#231f20" >12</text>
<line x1="58.9" y1="28.4" x2="62.3" y2="28.4" stroke="#000" stroke-width="1.3"/>
<text x="55" y="31.42" font-size="8.4" text-anchor="end" fill="#231f20" >16</text>
<line x1="60.7" y1="98.4" x2="62.3" y2="98.4" stroke="#000" stroke-width="1.3"/>
<line x1="60.7" y1="78.4" x2="62.3" y2="78.4" stroke="#000" stroke-width="1.3"/>
<line x1="60.7" y1="58.4" x2="62.3" y2="58.4" stroke="#000" stroke-width="1.3"/>
<line x1="60.7" y1="38.4" x2="62.3" y2="38.4" stroke="#000" stroke-width="1.3"/>
<line x1="61.7" y1="108.4" x2="183" y2="108.4" stroke="#000" stroke-width="1.3"/>
<line x1="94.5" y1="108.4" x2="94.5" y2="111.4" stroke="#000" stroke-width="1.3"/>
<line x1="150" y1="108.4" x2="150" y2="111.4" stroke="#000" stroke-width="1.3"/>
<rect x="73.8" y="104" width="41.3" height="4.4" fill="#6aa843" />
<line x1="94.5" y1="104" x2="94.5" y2="102.1" stroke="#222" stroke-width="1.2"/>
<line x1="84" y1="102.1" x2="105" y2="102.1" stroke="#222" stroke-width="1.2"/>
<rect x="129.2" y="56.5" width="41.7" height="51.9" fill="#a3002a" />
<line x1="150" y1="56.5" x2="150" y2="45.2" stroke="#222" stroke-width="1.2"/>
<line x1="139.5" y1="45.2" x2="160.8" y2="45.2" stroke="#222" stroke-width="1.2"/>
<text x="114.74" y="20.1" font-size="10.3" text-anchor="start" fill="#231f20" textLength="16.07" lengthAdjust="spacingAndGlyphs" >BM</text>
<text x="104.48" y="33.8" font-size="7.9" text-anchor="start" fill="#231f20" textLength="29" lengthAdjust="spacingAndGlyphs" >p&lt;0.001</text>
<text x="82.96" y="123" font-size="8.4" text-anchor="start" fill="#231f20" textLength="12.8" lengthAdjust="spacingAndGlyphs" >WT</text>
<text x="127.96" y="123" font-size="8.4" text-anchor="start" fill="#231f20" textLength="44.67" lengthAdjust="spacingAndGlyphs" >Vav-KDM6B</text>
<text transform="translate(38.4 111.61) rotate(-90)" font-size="10" text-anchor="start" fill="#231f20" textLength="90.59" lengthAdjust="spacingAndGlyphs" >KDM6B mRNA level</text>
<line x1="59.8" y1="162.2" x2="59.8" y2="247" stroke="#000" stroke-width="1.3"/>
<line x1="56.4" y1="246.4" x2="59.8" y2="246.4" stroke="#000" stroke-width="1.3"/>
<text x="52.7" y="249.42" font-size="8.4" text-anchor="end" fill="#231f20" >0</text>
<line x1="56.4" y1="232.95" x2="59.8" y2="232.95" stroke="#000" stroke-width="1.3"/>
<text x="52.7" y="235.97" font-size="8.4" text-anchor="end" fill="#231f20" >2</text>
<line x1="56.4" y1="219.5" x2="59.8" y2="219.5" stroke="#000" stroke-width="1.3"/>
<text x="52.7" y="222.52" font-size="8.4" text-anchor="end" fill="#231f20" >4</text>
<line x1="56.4" y1="206.05" x2="59.8" y2="206.05" stroke="#000" stroke-width="1.3"/>
<text x="52.7" y="209.07" font-size="8.4" text-anchor="end" fill="#231f20" >6</text>
<line x1="56.4" y1="192.6" x2="59.8" y2="192.6" stroke="#000" stroke-width="1.3"/>
<text x="52.7" y="195.62" font-size="8.4" text-anchor="end" fill="#231f20" >8</text>
<line x1="56.4" y1="179.15" x2="59.8" y2="179.15" stroke="#000" stroke-width="1.3"/>
<text x="52.7" y="182.17" font-size="8.4" text-anchor="end" fill="#231f20" >10</text>
<line x1="56.4" y1="165.7" x2="59.8" y2="165.7" stroke="#000" stroke-width="1.3"/>
<text x="52.7" y="168.72" font-size="8.4" text-anchor="end" fill="#231f20" >12</text>
<line x1="58.2" y1="239.68" x2="59.8" y2="239.68" stroke="#000" stroke-width="1.3"/>
<line x1="58.2" y1="226.23" x2="59.8" y2="226.23" stroke="#000" stroke-width="1.3"/>
<line x1="58.2" y1="212.78" x2="59.8" y2="212.78" stroke="#000" stroke-width="1.3"/>
<line x1="58.2" y1="199.33" x2="59.8" y2="199.33" stroke="#000" stroke-width="1.3"/>
<line x1="58.2" y1="185.88" x2="59.8" y2="185.88" stroke="#000" stroke-width="1.3"/>
<line x1="58.2" y1="172.43" x2="59.8" y2="172.43" stroke="#000" stroke-width="1.3"/>
<line x1="59.2" y1="246.4" x2="175.5" y2="246.4" stroke="#000" stroke-width="1.3"/>
<line x1="88.6" y1="246.4" x2="88.6" y2="249.4" stroke="#000" stroke-width="1.3"/>
<line x1="146.5" y1="246.4" x2="146.5" y2="249.4" stroke="#000" stroke-width="1.3"/>
<text x="107.05" y="154.7" font-size="10.3" text-anchor="start" fill="#231f20" textLength="21.6" lengthAdjust="spacingAndGlyphs" >WBC</text>
<text x="98.76" y="168.5" font-size="7.9" text-anchor="start" fill="#231f20" textLength="25.58" lengthAdjust="spacingAndGlyphs" >p&lt;0.05</text>
<text x="82.86" y="261" font-size="8.4" text-anchor="start" fill="#231f20" textLength="12.09" lengthAdjust="spacingAndGlyphs" >WT</text>
<text x="123.96" y="261" font-size="8.4" text-anchor="start" fill="#231f20" textLength="45.18" lengthAdjust="spacingAndGlyphs" >Vav-KDM6B</text>
<text transform="translate(35.4 225.54) rotate(-90)" font-size="10.3" text-anchor="start" fill="#231f20" textLength="42.65" lengthAdjust="spacingAndGlyphs" >10<tspan font-size="7" dy="-4.64">3</tspan><tspan dy="4.64">/mm</tspan><tspan font-size="7" dy="-4.64">3</tspan></text>
<circle cx="86.5" cy="174.6" r="1.45" fill="#5ea332"/>
<circle cx="91.1" cy="179.2" r="1.45" fill="#5ea332"/>
<circle cx="84.2" cy="186.6" r="1.45" fill="#5ea332"/>
<circle cx="88.8" cy="189.2" r="1.45" fill="#5ea332"/>
<circle cx="93.4" cy="188.6" r="1.45" fill="#5ea332"/>
<circle cx="77.2" cy="191.5" r="1.45" fill="#5ea332"/>
<circle cx="81.8" cy="192.6" r="1.45" fill="#5ea332"/>
<circle cx="95.7" cy="192.6" r="1.45" fill="#5ea332"/>
<circle cx="100.3" cy="192" r="1.45" fill="#5ea332"/>
<circle cx="86.5" cy="194.6" r="1.45" fill="#5ea332"/>
<circle cx="91.1" cy="194.6" r="1.45" fill="#5ea332"/>
<circle cx="74.6" cy="196.2" r="1.45" fill="#5ea332"/>
<circle cx="79.5" cy="197.7" r="1.45" fill="#5ea332"/>
<circle cx="102.6" cy="197.4" r="1.45" fill="#5ea332"/>
<circle cx="98" cy="198.5" r="1.45" fill="#5ea332"/>
<circle cx="79.4" cy="197.8" r="1.45" fill="#5ea332"/>
<circle cx="84.2" cy="199.4" r="1.45" fill="#5ea332"/>
<circle cx="88.6" cy="200.4" r="1.45" fill="#5ea332"/>
<circle cx="93.4" cy="199.4" r="1.45" fill="#5ea332"/>
<circle cx="97.7" cy="198.5" r="1.45" fill="#5ea332"/>
<circle cx="81.3" cy="202.8" r="1.45" fill="#5ea332"/>
<circle cx="86" cy="203.5" r="1.45" fill="#5ea332"/>
<circle cx="79.5" cy="208.2" r="1.45" fill="#5ea332"/>
<circle cx="86.5" cy="206.2" r="1.45" fill="#5ea332"/>
<circle cx="91.1" cy="207.4" r="1.45" fill="#5ea332"/>
<circle cx="95.7" cy="206.2" r="1.45" fill="#5ea332"/>
<circle cx="84.2" cy="211.5" r="1.45" fill="#5ea332"/>
<circle cx="88.8" cy="212.8" r="1.45" fill="#5ea332"/>
<circle cx="93.4" cy="211.5" r="1.45" fill="#5ea332"/>
<circle cx="98" cy="210.8" r="1.45" fill="#5ea332"/>
<circle cx="81.8" cy="215.4" r="1.45" fill="#5ea332"/>
<circle cx="95.7" cy="216.2" r="1.45" fill="#5ea332"/>
<circle cx="86.5" cy="218.9" r="1.45" fill="#5ea332"/>
<circle cx="91.1" cy="218.9" r="1.45" fill="#5ea332"/>
<circle cx="88.8" cy="224.9" r="1.45" fill="#5ea332"/>
<rect x="144.8" y="174.8" width="3" height="3" fill="#a3002a"/>
<rect x="140.1" y="180.3" width="3" height="3" fill="#a3002a"/>
<rect x="144.8" y="182.4" width="3" height="3" fill="#a3002a"/>
<rect x="149.5" y="181.7" width="3" height="3" fill="#a3002a"/>
<rect x="135.7" y="186.9" width="3" height="3" fill="#a3002a"/>
<rect x="154.3" y="186.9" width="3" height="3" fill="#a3002a"/>
<rect x="140.4" y="190" width="3" height="3" fill="#a3002a"/>
<rect x="144.8" y="190.7" width="3" height="3" fill="#a3002a"/>
<rect x="149.5" y="189" width="3" height="3" fill="#a3002a"/>
<rect x="133.4" y="193.1" width="3" height="3" fill="#a3002a"/>
<rect x="137.8" y="193.1" width="3" height="3" fill="#a3002a"/>
<rect x="147.3" y="193.8" width="3" height="3" fill="#a3002a"/>
<rect x="151.8" y="193.1" width="3" height="3" fill="#a3002a"/>
<rect x="156.5" y="193.1" width="3" height="3" fill="#a3002a"/>
<rect x="142.8" y="197.7" width="3" height="3" fill="#a3002a"/>
<rect x="135.7" y="200.8" width="3" height="3" fill="#a3002a"/>
<rect x="140.4" y="202.5" width="3" height="3" fill="#a3002a"/>
<rect x="144.8" y="202.5" width="3" height="3" fill="#a3002a"/>
<rect x="149.5" y="201.5" width="3" height="3" fill="#a3002a"/>
<rect x="154.3" y="199.9" width="3" height="3" fill="#a3002a"/>
<rect x="127.3" y="204.6" width="3" height="3" fill="#a3002a"/>
<rect x="131.6" y="205.1" width="3" height="3" fill="#a3002a"/>
<rect x="158.6" y="204.6" width="3" height="3" fill="#a3002a"/>
<rect x="162.3" y="204.2" width="3" height="3" fill="#a3002a"/>
<rect x="128" y="209.5" width="3" height="3" fill="#a3002a"/>
<rect x="132.1" y="210.9" width="3" height="3" fill="#a3002a"/>
<rect x="136.5" y="212.2" width="3" height="3" fill="#a3002a"/>
<rect x="140.8" y="214" width="3" height="3" fill="#a3002a"/>
<rect x="144.8" y="214.3" width="3" height="3" fill="#a3002a"/>
<rect x="148.9" y="214" width="3" height="3" fill="#a3002a"/>
<rect x="153.2" y="211.8" width="3" height="3" fill="#a3002a"/>
<rect x="157.6" y="210.6" width="3" height="3" fill="#a3002a"/>
<rect x="162.1" y="209.5" width="3" height="3" fill="#a3002a"/>
<rect x="130.7" y="217" width="3" height="3" fill="#a3002a"/>
<rect x="133.4" y="219.6" width="3" height="3" fill="#a3002a"/>
<rect x="136.1" y="218.3" width="3" height="3" fill="#a3002a"/>
<rect x="138.1" y="221.4" width="3" height="3" fill="#a3002a"/>
<rect x="142.8" y="218.6" width="3" height="3" fill="#a3002a"/>
<rect x="147.3" y="218.7" width="3" height="3" fill="#a3002a"/>
<rect x="151.8" y="217.2" width="3" height="3" fill="#a3002a"/>
<rect x="159" y="216.5" width="3" height="3" fill="#a3002a"/>
<rect x="156.3" y="220.7" width="3" height="3" fill="#a3002a"/>
<rect x="151.8" y="222.6" width="3" height="3" fill="#a3002a"/>
<rect x="142.8" y="224.8" width="3" height="3" fill="#a3002a"/>
<rect x="147.3" y="224.8" width="3" height="3" fill="#a3002a"/>
<rect x="144.8" y="234.2" width="3" height="3" fill="#a3002a"/>
<rect x="130" y="205.6" width="3" height="3" fill="#a3002a"/>
<rect x="133" y="205.2" width="3" height="3" fill="#a3002a"/>
<rect x="139.9" y="202.6" width="3" height="3" fill="#a3002a"/>
<rect x="145.5" y="202.6" width="3" height="3" fill="#a3002a"/>
<rect x="143" y="209.1" width="3" height="3" fill="#a3002a"/>
<rect x="146.9" y="208.6" width="3" height="3" fill="#a3002a"/>
<rect x="138.5" y="207" width="3" height="3" fill="#a3002a"/>
<rect x="151" y="206.5" width="3" height="3" fill="#a3002a"/>
<line x1="69.3" y1="201.3" x2="107.8" y2="201.3" stroke="#6aa843" stroke-width="1.2"/>
<line x1="88.6" y1="199.2" x2="88.6" y2="203.3" stroke="#111" stroke-width="1.1"/>
<line x1="79" y1="199.2" x2="98.2" y2="199.2" stroke="#111" stroke-width="1.1"/>
<line x1="79" y1="203.3" x2="98.2" y2="203.3" stroke="#111" stroke-width="1.1"/>
<line x1="127.2" y1="206.7" x2="165.7" y2="206.7" stroke="#a3002a" stroke-width="1.3"/>
<line x1="146.5" y1="205.6" x2="146.5" y2="209.3" stroke="#111" stroke-width="1.1"/>
<line x1="137.1" y1="205.6" x2="156.1" y2="205.6" stroke="#111" stroke-width="1.1"/>
<line x1="137.1" y1="209.3" x2="156.1" y2="209.3" stroke="#111" stroke-width="1.1"/>
<line x1="59.3" y1="289.5" x2="59.3" y2="374.4" stroke="#000" stroke-width="1.3"/>
<line x1="55.9" y1="373.8" x2="59.3" y2="373.8" stroke="#000" stroke-width="1.3"/>
<text x="52.4" y="376.82" font-size="8.4" text-anchor="end" fill="#231f20" >0.0</text>
<line x1="55.9" y1="357.6" x2="59.3" y2="357.6" stroke="#000" stroke-width="1.3"/>
<text x="52.4" y="360.62" font-size="8.4" text-anchor="end" fill="#231f20" >0.5</text>
<line x1="55.9" y1="341.4" x2="59.3" y2="341.4" stroke="#000" stroke-width="1.3"/>
<text x="52.4" y="344.42" font-size="8.4" text-anchor="end" fill="#231f20" >1.0</text>
<line x1="55.9" y1="325.2" x2="59.3" y2="325.2" stroke="#000" stroke-width="1.3"/>
<text x="52.4" y="328.22" font-size="8.4" text-anchor="end" fill="#231f20" >1.5</text>
<line x1="55.9" y1="309" x2="59.3" y2="309" stroke="#000" stroke-width="1.3"/>
<text x="52.4" y="312.02" font-size="8.4" text-anchor="end" fill="#231f20" >2.0</text>
<line x1="55.9" y1="292.8" x2="59.3" y2="292.8" stroke="#000" stroke-width="1.3"/>
<text x="52.4" y="295.82" font-size="8.4" text-anchor="end" fill="#231f20" >2.5</text>
<line x1="57.7" y1="365.7" x2="59.3" y2="365.7" stroke="#000" stroke-width="1.3"/>
<line x1="57.7" y1="349.5" x2="59.3" y2="349.5" stroke="#000" stroke-width="1.3"/>
<line x1="57.7" y1="333.3" x2="59.3" y2="333.3" stroke="#000" stroke-width="1.3"/>
<line x1="57.7" y1="317.1" x2="59.3" y2="317.1" stroke="#000" stroke-width="1.3"/>
<line x1="57.7" y1="300.9" x2="59.3" y2="300.9" stroke="#000" stroke-width="1.3"/>
<line x1="58.7" y1="373.8" x2="178.5" y2="373.8" stroke="#000" stroke-width="1.3"/>
<line x1="89.4" y1="373.8" x2="89.4" y2="376.8" stroke="#000" stroke-width="1.3"/>
<line x1="148.5" y1="373.8" x2="148.5" y2="376.8" stroke="#000" stroke-width="1.3"/>
<text x="92.38" y="283.5" font-size="10.3" text-anchor="start" fill="#231f20" textLength="53.83" lengthAdjust="spacingAndGlyphs" >neutrophils</text>
<text x="104.86" y="298.9" font-size="7.9" text-anchor="start" fill="#231f20" textLength="25.48" lengthAdjust="spacingAndGlyphs" >p&lt;0.05</text>
<text x="83.56" y="388.8" font-size="8.4" text-anchor="start" fill="#231f20" textLength="11.99" lengthAdjust="spacingAndGlyphs" >WT</text>
<text x="126.26" y="388.8" font-size="8.4" text-anchor="start" fill="#231f20" textLength="45.18" lengthAdjust="spacingAndGlyphs" >Vav-KDM6B</text>
<text transform="translate(33.7 352.23) rotate(-90)" font-size="10.3" text-anchor="start" fill="#231f20" textLength="42.04" lengthAdjust="spacingAndGlyphs" >10<tspan font-size="7" dy="-4.64">3</tspan><tspan dy="4.64">/mm</tspan><tspan font-size="7" dy="-4.64">3</tspan></text>
<circle cx="89.4" cy="297.9" r="1.45" fill="#5ea332"/>
<circle cx="89.4" cy="306.3" r="1.45" fill="#5ea332"/>
<circle cx="89.4" cy="311.5" r="1.45" fill="#5ea332"/>
<circle cx="86.8" cy="319.3" r="1.45" fill="#5ea332"/>
<circle cx="89.4" cy="318.7" r="1.45" fill="#5ea332"/>
<circle cx="94" cy="323.6" r="1.45" fill="#5ea332"/>
<circle cx="86.8" cy="328.8" r="1.45" fill="#5ea332"/>
<circle cx="91.7" cy="328.6" r="1.45" fill="#5ea332"/>
<circle cx="84.5" cy="334.8" r="1.45" fill="#5ea332"/>
<circle cx="94" cy="334.8" r="1.45" fill="#5ea332"/>
<circle cx="89.4" cy="337.5" r="1.45" fill="#5ea332"/>
<circle cx="75" cy="339.8" r="1.45" fill="#5ea332"/>
<circle cx="101.3" cy="339.4" r="1.45" fill="#5ea332"/>
<circle cx="96.3" cy="340.6" r="1.45" fill="#5ea332"/>
<circle cx="79.8" cy="342.7" r="1.45" fill="#5ea332"/>
<circle cx="84.5" cy="344" r="1.45" fill="#5ea332"/>
<circle cx="91.7" cy="343.8" r="1.45" fill="#5ea332"/>
<circle cx="86.8" cy="348.4" r="1.45" fill="#5ea332"/>
<circle cx="91.7" cy="349.1" r="1.45" fill="#5ea332"/>
<circle cx="77.3" cy="351.3" r="1.45" fill="#5ea332"/>
<circle cx="96.3" cy="351.7" r="1.45" fill="#5ea332"/>
<circle cx="101.3" cy="351.3" r="1.45" fill="#5ea332"/>
<circle cx="82.1" cy="355.4" r="1.45" fill="#5ea332"/>
<circle cx="86.8" cy="355.9" r="1.45" fill="#5ea332"/>
<circle cx="91.7" cy="355.4" r="1.45" fill="#5ea332"/>
<rect x="147" y="307.2" width="3" height="3" fill="#a3002a"/>
<rect x="147" y="316" width="3" height="3" fill="#a3002a"/>
<rect x="142.1" y="322.1" width="3" height="3" fill="#a3002a"/>
<rect x="151.7" y="323" width="3" height="3" fill="#a3002a"/>
<rect x="147" y="326" width="3" height="3" fill="#a3002a"/>
<rect x="137.5" y="331.1" width="3" height="3" fill="#a3002a"/>
<rect x="142.1" y="331.7" width="3" height="3" fill="#a3002a"/>
<rect x="147" y="332.5" width="3" height="3" fill="#a3002a"/>
<rect x="151.7" y="331.1" width="3" height="3" fill="#a3002a"/>
<rect x="156.6" y="329.9" width="3" height="3" fill="#a3002a"/>
<rect x="135.2" y="335.6" width="3" height="3" fill="#a3002a"/>
<rect x="139.8" y="336.3" width="3" height="3" fill="#a3002a"/>
<rect x="144.8" y="338.3" width="3" height="3" fill="#a3002a"/>
<rect x="149.4" y="336.8" width="3" height="3" fill="#a3002a"/>
<rect x="154" y="336" width="3" height="3" fill="#a3002a"/>
<rect x="158.9" y="334" width="3" height="3" fill="#a3002a"/>
<rect x="129.5" y="346.7" width="3" height="3" fill="#a3002a"/>
<rect x="133.7" y="346.7" width="3" height="3" fill="#a3002a"/>
<rect x="138.1" y="347.9" width="3" height="3" fill="#a3002a"/>
<rect x="142.7" y="349" width="3" height="3" fill="#a3002a"/>
<rect x="147" y="351" width="3" height="3" fill="#a3002a"/>
<rect x="151.4" y="349.5" width="3" height="3" fill="#a3002a"/>
<rect x="155.6" y="349" width="3" height="3" fill="#a3002a"/>
<rect x="160" y="347.5" width="3" height="3" fill="#a3002a"/>
<rect x="164.4" y="346.7" width="3" height="3" fill="#a3002a"/>
<rect x="135.2" y="352.9" width="3" height="3" fill="#a3002a"/>
<rect x="156.6" y="352.9" width="3" height="3" fill="#a3002a"/>
<rect x="137.5" y="357.9" width="3" height="3" fill="#a3002a"/>
<rect x="139.8" y="357.1" width="3" height="3" fill="#a3002a"/>
<rect x="142.1" y="359.6" width="3" height="3" fill="#a3002a"/>
<rect x="147" y="357.6" width="3" height="3" fill="#a3002a"/>
<rect x="151.7" y="355.6" width="3" height="3" fill="#a3002a"/>
<rect x="151.7" y="361" width="3" height="3" fill="#a3002a"/>
<rect x="156.6" y="359.6" width="3" height="3" fill="#a3002a"/>
<rect x="147" y="362.9" width="3" height="3" fill="#a3002a"/>
<rect x="129" y="341.1" width="3" height="3" fill="#a3002a"/>
<rect x="133" y="341.7" width="3" height="3" fill="#a3002a"/>
<rect x="162" y="340.9" width="3" height="3" fill="#a3002a"/>
<rect x="165" y="341.3" width="3" height="3" fill="#a3002a"/>
<rect x="139.5" y="343" width="3" height="3" fill="#a3002a"/>
<rect x="144.5" y="343.5" width="3" height="3" fill="#a3002a"/>
<rect x="149.5" y="343.3" width="3" height="3" fill="#a3002a"/>
<rect x="154.5" y="343" width="3" height="3" fill="#a3002a"/>
<line x1="69.5" y1="336.3" x2="109" y2="336.3" stroke="#6aa843" stroke-width="1.2"/>
<line x1="89.4" y1="333.2" x2="89.4" y2="339.2" stroke="#111" stroke-width="1.1"/>
<line x1="79.4" y1="333.2" x2="99" y2="333.2" stroke="#111" stroke-width="1.1"/>
<line x1="79.4" y1="339.2" x2="99" y2="339.2" stroke="#111" stroke-width="1.1"/>
<line x1="129.2" y1="342.9" x2="168.2" y2="342.9" stroke="#a3002a" stroke-width="1.3"/>
<line x1="148.5" y1="342.4" x2="148.5" y2="345.9" stroke="#111" stroke-width="1.1"/>
<line x1="139.5" y1="342.4" x2="158" y2="342.4" stroke="#111" stroke-width="1.1"/>
<line x1="139.5" y1="345.9" x2="158" y2="345.9" stroke="#111" stroke-width="1.1"/>
<line x1="59.6" y1="426.2" x2="59.6" y2="522.8" stroke="#000" stroke-width="1.3"/>
<line x1="56.2" y1="522.4" x2="59.6" y2="522.4" stroke="#000" stroke-width="1.3"/>
<text x="53.1" y="525.42" font-size="8.4" text-anchor="end" fill="#231f20" >20</text>
<line x1="56.2" y1="501.6" x2="59.6" y2="501.6" stroke="#000" stroke-width="1.3"/>
<text x="53.1" y="504.62" font-size="8.4" text-anchor="end" fill="#231f20" >40</text>
<line x1="56.2" y1="480.8" x2="59.6" y2="480.8" stroke="#000" stroke-width="1.3"/>
<text x="53.1" y="483.82" font-size="8.4" text-anchor="end" fill="#231f20" >60</text>
<line x1="56.2" y1="460" x2="59.6" y2="460" stroke="#000" stroke-width="1.3"/>
<text x="53.1" y="463.02" font-size="8.4" text-anchor="end" fill="#231f20" >80</text>
<line x1="56.2" y1="439.2" x2="59.6" y2="439.2" stroke="#000" stroke-width="1.3"/>
<text x="53.1" y="442.22" font-size="8.4" text-anchor="end" fill="#231f20" >100</text>
<line x1="58" y1="512" x2="59.6" y2="512" stroke="#000" stroke-width="1.3"/>
<line x1="58" y1="491.2" x2="59.6" y2="491.2" stroke="#000" stroke-width="1.3"/>
<line x1="58" y1="470.4" x2="59.6" y2="470.4" stroke="#000" stroke-width="1.3"/>
<line x1="58" y1="449.6" x2="59.6" y2="449.6" stroke="#000" stroke-width="1.3"/>
<line x1="58" y1="428.8" x2="59.6" y2="428.8" stroke="#000" stroke-width="1.3"/>
<line x1="59" y1="522.2" x2="203.6" y2="522.2" stroke="#000" stroke-width="1.3"/>
<line x1="59.6" y1="522.2" x2="59.6" y2="525.2" stroke="#000" stroke-width="1.3"/>
<line x1="94.7" y1="522.2" x2="94.7" y2="525.2" stroke="#000" stroke-width="1.3"/>
<line x1="129.8" y1="522.2" x2="129.8" y2="525.2" stroke="#000" stroke-width="1.3"/>
<line x1="164.9" y1="522.2" x2="164.9" y2="525.2" stroke="#000" stroke-width="1.3"/>
<line x1="200" y1="522.2" x2="200" y2="525.2" stroke="#000" stroke-width="1.3"/>
<text x="59.6" y="537.3" font-size="8.5" text-anchor="middle" fill="#231f20" >0</text>
<text x="94.7" y="537.3" font-size="8.5" text-anchor="middle" fill="#231f20" >10</text>
<text x="129.8" y="537.3" font-size="8.5" text-anchor="middle" fill="#231f20" >20</text>
<text x="164.9" y="537.3" font-size="8.5" text-anchor="middle" fill="#231f20" >30</text>
<text x="200" y="537.3" font-size="8.5" text-anchor="middle" fill="#231f20" >40</text>
<text x="101.04" y="552.4" font-size="10.2" text-anchor="start" fill="#231f20" textLength="70.46" lengthAdjust="spacingAndGlyphs" >Month elapsed</text>
<text transform="translate(30.4 511.13) rotate(-90)" font-size="10.5" text-anchor="start" fill="#231f20" textLength="74.05" lengthAdjust="spacingAndGlyphs" >Percent survival</text>
<text x="113.88" y="413.8" font-size="10.3" text-anchor="start" fill="#231f20" textLength="36.42" lengthAdjust="spacingAndGlyphs" >survival</text>
<text x="68.25" y="461.7" font-size="7.9" text-anchor="start" fill="#231f20" textLength="25.89" lengthAdjust="spacingAndGlyphs" >p&lt;0.05</text>
<line x1="68.3" y1="426.8" x2="78.6" y2="426.8" stroke="#6aa843" stroke-width="1.3"/>
<line x1="73.5" y1="425.6" x2="73.5" y2="426.8" stroke="#000" stroke-width="0.8"/>
<text x="81.26" y="430.3" font-size="8.4" text-anchor="start" fill="#231f20" textLength="11.58" lengthAdjust="spacingAndGlyphs" >WT</text>
<line x1="131.5" y1="427" x2="141.5" y2="427" stroke="#a3002a" stroke-width="1.3"/>
<line x1="136.5" y1="425.8" x2="136.5" y2="427" stroke="#000" stroke-width="0.8"/>
<text x="144.36" y="430.4" font-size="8.4" text-anchor="start" fill="#231f20" textLength="42.25" lengthAdjust="spacingAndGlyphs" >Vav-KDM6B</text>
<polyline points="59.6,439.3 151.5,439.3 151.5,444.9 154.7,444.9 154.7,450.3 158.1,450.3 158.1,457.2 161.5,457.2 161.5,464.6 175.5,464.6 175.5,484.2 182.2,484.2" fill="none" stroke="#6aa843" stroke-width="1.5" stroke-linejoin="miter"/>
<polyline points="59.6,439.3 126.5,439.3 126.5,443.5 129.9,443.5 129.9,448.2 133.5,448.2 133.5,452.6 136.8,452.6 136.8,461.2 143.9,461.2 143.9,474.2 147.3,474.2 147.3,478.2 154.7,478.2 154.7,487.7 158.1,487.7 158.1,492.3 161.5,492.3 161.5,501.1 178.8,501.1" fill="none" stroke="#a3002a" stroke-width="1.5" stroke-linejoin="miter"/>
<line x1="154.7" y1="448.7" x2="154.7" y2="450" stroke="#000" stroke-width="0.8"/>
<line x1="158.1" y1="455.6" x2="158.1" y2="456.9" stroke="#000" stroke-width="0.8"/>
<line x1="164.5" y1="463" x2="164.5" y2="464.3" stroke="#000" stroke-width="0.8"/>
<line x1="166.8" y1="463" x2="166.8" y2="464.3" stroke="#000" stroke-width="0.8"/>
<line x1="168.8" y1="463" x2="168.8" y2="464.3" stroke="#000" stroke-width="0.8"/>
<line x1="176" y1="482.6" x2="176" y2="483.9" stroke="#000" stroke-width="0.8"/>
<line x1="179.5" y1="482.6" x2="179.5" y2="483.9" stroke="#000" stroke-width="0.8"/>
<line x1="182" y1="482.6" x2="182" y2="483.9" stroke="#000" stroke-width="0.8"/>
<line x1="150.7" y1="476.6" x2="150.7" y2="477.9" stroke="#000" stroke-width="0.8"/>
<line x1="164" y1="499.5" x2="164" y2="500.8" stroke="#000" stroke-width="0.8"/>
<line x1="168" y1="499.5" x2="168" y2="500.8" stroke="#000" stroke-width="0.8"/>
<line x1="178.6" y1="499.5" x2="178.6" y2="500.8" stroke="#000" stroke-width="0.8"/>
<line x1="60" y1="634.7" x2="60" y2="717.2" stroke="#000" stroke-width="1.3"/>
<line x1="56.6" y1="716.6" x2="60" y2="716.6" stroke="#000" stroke-width="1.3"/>
<text x="53" y="719.62" font-size="8.4" text-anchor="end" fill="#231f20" >0</text>
<line x1="56.6" y1="703.57" x2="60" y2="703.57" stroke="#000" stroke-width="1.3"/>
<text x="53" y="706.59" font-size="8.4" text-anchor="end" fill="#231f20" >2</text>
<line x1="56.6" y1="690.54" x2="60" y2="690.54" stroke="#000" stroke-width="1.3"/>
<text x="53" y="693.56" font-size="8.4" text-anchor="end" fill="#231f20" >4</text>
<line x1="56.6" y1="677.51" x2="60" y2="677.51" stroke="#000" stroke-width="1.3"/>
<text x="53" y="680.53" font-size="8.4" text-anchor="end" fill="#231f20" >6</text>
<line x1="56.6" y1="664.48" x2="60" y2="664.48" stroke="#000" stroke-width="1.3"/>
<text x="53" y="667.5" font-size="8.4" text-anchor="end" fill="#231f20" >8</text>
<line x1="56.6" y1="651.45" x2="60" y2="651.45" stroke="#000" stroke-width="1.3"/>
<text x="53" y="654.47" font-size="8.4" text-anchor="end" fill="#231f20" >10</text>
<line x1="56.6" y1="638.42" x2="60" y2="638.42" stroke="#000" stroke-width="1.3"/>
<text x="53" y="641.44" font-size="8.4" text-anchor="end" fill="#231f20" >12</text>
<line x1="58.4" y1="710.09" x2="60" y2="710.09" stroke="#000" stroke-width="1.3"/>
<line x1="58.4" y1="697.06" x2="60" y2="697.06" stroke="#000" stroke-width="1.3"/>
<line x1="58.4" y1="684.02" x2="60" y2="684.02" stroke="#000" stroke-width="1.3"/>
<line x1="58.4" y1="671" x2="60" y2="671" stroke="#000" stroke-width="1.3"/>
<line x1="58.4" y1="657.97" x2="60" y2="657.97" stroke="#000" stroke-width="1.3"/>
<line x1="58.4" y1="644.94" x2="60" y2="644.94" stroke="#000" stroke-width="1.3"/>
<line x1="59.4" y1="716.8" x2="179" y2="716.8" stroke="#000" stroke-width="1.3"/>
<line x1="73.8" y1="716.8" x2="73.8" y2="719.8" stroke="#000" stroke-width="1.3"/>
<line x1="95.5" y1="716.8" x2="95.5" y2="719.8" stroke="#000" stroke-width="1.3"/>
<line x1="142.5" y1="716.8" x2="142.5" y2="719.8" stroke="#000" stroke-width="1.3"/>
<line x1="164.3" y1="716.8" x2="164.3" y2="719.8" stroke="#000" stroke-width="1.3"/>
<text x="108.45" y="588.6" font-size="10.3" text-anchor="start" fill="#231f20" textLength="21.7" lengthAdjust="spacingAndGlyphs" >WBC</text>
<text transform="translate(36.5 696.74) rotate(-90)" font-size="10.3" text-anchor="start" fill="#231f20" textLength="42.86" lengthAdjust="spacingAndGlyphs" >10<tspan font-size="7" dy="-4.64">3</tspan><tspan dy="4.64">/mm</tspan><tspan font-size="7" dy="-4.64">3</tspan></text>
<polyline points="96.4,608.3 96.4,604.8 165.3,604.8 165.3,608.3" fill="none" stroke="#333" stroke-width="1.1" stroke-linejoin="miter"/>
<polyline points="73.3,624 73.3,620.4 141.8,620.4 141.8,624" fill="none" stroke="#333" stroke-width="1.1" stroke-linejoin="miter"/>
<polyline points="73.3,644.6 73.3,641.4 97.3,641.4 97.3,644.6" fill="none" stroke="#333" stroke-width="1.1" stroke-linejoin="miter"/>
<polyline points="142.1,640.6 142.1,637.1 165.6,637.1 165.6,640.6" fill="none" stroke="#333" stroke-width="1.1" stroke-linejoin="miter"/>
<text x="123.83" y="600.8" font-size="8.4" text-anchor="start" fill="#231f20" textLength="11.58" lengthAdjust="spacingAndGlyphs" >NS</text>
<text x="101.04" y="616.7" font-size="8.4" text-anchor="start" fill="#231f20" textLength="11.47" lengthAdjust="spacingAndGlyphs" >NS</text>
<text x="70.43" y="636" font-size="7.9" text-anchor="start" fill="#231f20" textLength="27.03" lengthAdjust="spacingAndGlyphs" >p&lt;0.05</text>
<text x="138.41" y="631.5" font-size="7.9" text-anchor="start" fill="#231f20" textLength="27.86" lengthAdjust="spacingAndGlyphs" >p&lt;0.05</text>
<line x1="73.95" y1="646.8" x2="73.95" y2="665.1" stroke="#222" stroke-width="1.1"/>
<line x1="73.95" y1="681.9" x2="73.95" y2="696" stroke="#222" stroke-width="1.1"/>
<line x1="68.8" y1="646.8" x2="78.7" y2="646.8" stroke="#222" stroke-width="1.2"/>
<line x1="68.8" y1="696" x2="78.7" y2="696" stroke="#222" stroke-width="1.2"/>
<rect x="65" y="665.1" width="17.9" height="16.8" fill="#6aa843" />
<rect x="65.4" y="665.5" width="17.1" height="16" fill="none" stroke="#80c05a" stroke-width="0.8"/>
<line x1="65" y1="670.9" x2="82.9" y2="670.9" stroke="#111" stroke-width="1.7"/>
<line x1="95.65" y1="648.8" x2="95.65" y2="667.9" stroke="#222" stroke-width="1.1"/>
<line x1="95.65" y1="688.2" x2="95.65" y2="706.4" stroke="#222" stroke-width="1.1"/>
<line x1="91" y1="648.8" x2="100" y2="648.8" stroke="#222" stroke-width="1.2"/>
<line x1="91" y1="706.4" x2="100" y2="706.4" stroke="#222" stroke-width="1.2"/>
<rect x="86.9" y="667.9" width="17.5" height="20.3" fill="#a3002a" />
<rect x="87.3" y="668.3" width="16.7" height="19.5" fill="none" stroke="#c41438" stroke-width="0.8"/>
<line x1="86.9" y1="680" x2="104.4" y2="680" stroke="#111" stroke-width="1.7"/>
<line x1="142.7" y1="643.1" x2="142.7" y2="652.5" stroke="#222" stroke-width="1.1"/>
<line x1="142.7" y1="682.4" x2="142.7" y2="693.3" stroke="#222" stroke-width="1.1"/>
<line x1="138.2" y1="643.1" x2="147.6" y2="643.1" stroke="#222" stroke-width="1.2"/>
<line x1="138.2" y1="693.3" x2="147.6" y2="693.3" stroke="#222" stroke-width="1.2"/>
<rect x="134" y="652.5" width="17.4" height="29.9" fill="#2d4a7b" />
<rect x="134.4" y="652.9" width="16.6" height="29.1" fill="none" stroke="#3f5e98" stroke-width="0.8"/>
<line x1="134" y1="670.5" x2="151.4" y2="670.5" stroke="#111" stroke-width="1.7"/>
<line x1="164.3" y1="661.9" x2="164.3" y2="675.3" stroke="#222" stroke-width="1.1"/>
<line x1="164.3" y1="690.7" x2="164.3" y2="702.7" stroke="#222" stroke-width="1.1"/>
<line x1="159.7" y1="661.9" x2="168.7" y2="661.9" stroke="#222" stroke-width="1.2"/>
<line x1="159.7" y1="702.7" x2="168.7" y2="702.7" stroke="#222" stroke-width="1.2"/>
<rect x="155.5" y="675.3" width="17.6" height="15.4" fill="#db8915" />
<rect x="155.9" y="675.7" width="16.8" height="14.6" fill="none" stroke="#eba338" stroke-width="0.8"/>
<line x1="155.5" y1="682.3" x2="173.1" y2="682.3" stroke="#111" stroke-width="1.7"/>
<text x="67.76" y="731.5" font-size="8.2" text-anchor="start" fill="#231f20" textLength="12.9" lengthAdjust="spacingAndGlyphs" >WT</text>
<text x="87.46" y="731.5" font-size="8.2" text-anchor="start" fill="#231f20" textLength="16.49" lengthAdjust="spacingAndGlyphs" >Vav-</text>
<text x="81.02" y="743" font-size="8.2" text-anchor="start" fill="#231f20" textLength="29.21" lengthAdjust="spacingAndGlyphs" >KDM6B</text>
<line x1="69.2" y1="748.8" x2="109" y2="748.8" stroke="#222" stroke-width="1.4"/>
<text x="77.05" y="760.2" font-size="8.4" text-anchor="start" fill="#231f20" textLength="24.53" lengthAdjust="spacingAndGlyphs" >young</text>
<text x="136.26" y="731.5" font-size="8.2" text-anchor="start" fill="#231f20" textLength="12.4" lengthAdjust="spacingAndGlyphs" >WT</text>
<text x="156.26" y="731.5" font-size="8.2" text-anchor="start" fill="#231f20" textLength="16.8" lengthAdjust="spacingAndGlyphs" >Vav-</text>
<text x="149.52" y="743" font-size="8.2" text-anchor="start" fill="#231f20" textLength="29.1" lengthAdjust="spacingAndGlyphs" >KDM6B</text>
<line x1="137.8" y1="748.8" x2="177.9" y2="748.8" stroke="#222" stroke-width="1.4"/>
<text x="151.3" y="759.8" font-size="8.4" text-anchor="start" fill="#231f20" textLength="13.35" lengthAdjust="spacingAndGlyphs" >old</text>
<line x1="409.4" y1="45.2" x2="409.4" y2="120.2" stroke="#000" stroke-width="1.3"/>
<line x1="406" y1="119.6" x2="409.4" y2="119.6" stroke="#000" stroke-width="1.3"/>
<text x="402" y="122.62" font-size="8.4" text-anchor="end" fill="#231f20" >0</text>
<line x1="406" y1="107.8" x2="409.4" y2="107.8" stroke="#000" stroke-width="1.3"/>
<text x="402" y="110.82" font-size="8.4" text-anchor="end" fill="#231f20" >2</text>
<line x1="406" y1="96" x2="409.4" y2="96" stroke="#000" stroke-width="1.3"/>
<text x="402" y="99.02" font-size="8.4" text-anchor="end" fill="#231f20" >4</text>
<line x1="406" y1="84.2" x2="409.4" y2="84.2" stroke="#000" stroke-width="1.3"/>
<text x="402" y="87.22" font-size="8.4" text-anchor="end" fill="#231f20" >6</text>
<line x1="406" y1="72.4" x2="409.4" y2="72.4" stroke="#000" stroke-width="1.3"/>
<text x="402" y="75.42" font-size="8.4" text-anchor="end" fill="#231f20" >8</text>
<line x1="406" y1="60.6" x2="409.4" y2="60.6" stroke="#000" stroke-width="1.3"/>
<text x="402" y="63.62" font-size="8.4" text-anchor="end" fill="#231f20" >10</text>
<line x1="406" y1="48.8" x2="409.4" y2="48.8" stroke="#000" stroke-width="1.3"/>
<text x="402" y="51.82" font-size="8.4" text-anchor="end" fill="#231f20" >12</text>
<line x1="407.8" y1="113.7" x2="409.4" y2="113.7" stroke="#000" stroke-width="1.3"/>
<line x1="407.8" y1="101.9" x2="409.4" y2="101.9" stroke="#000" stroke-width="1.3"/>
<line x1="407.8" y1="90.1" x2="409.4" y2="90.1" stroke="#000" stroke-width="1.3"/>
<line x1="407.8" y1="78.3" x2="409.4" y2="78.3" stroke="#000" stroke-width="1.3"/>
<line x1="407.8" y1="66.5" x2="409.4" y2="66.5" stroke="#000" stroke-width="1.3"/>
<line x1="407.8" y1="54.7" x2="409.4" y2="54.7" stroke="#000" stroke-width="1.3"/>
<line x1="408.8" y1="119.6" x2="512.5" y2="119.6" stroke="#000" stroke-width="1.3"/>
<line x1="434.6" y1="119.6" x2="434.6" y2="122.6" stroke="#000" stroke-width="1.3"/>
<line x1="485.8" y1="119.6" x2="485.8" y2="122.6" stroke="#000" stroke-width="1.3"/>
<rect x="418.3" y="96.3" width="32.7" height="23.3" fill="#6aa843" />
<line x1="434.7" y1="96.3" x2="434.7" y2="90.5" stroke="#222" stroke-width="1.2"/>
<line x1="426.3" y1="90.5" x2="443.1" y2="90.5" stroke="#222" stroke-width="1.2"/>
<rect x="469.3" y="66.2" width="32.9" height="53.4" fill="#a3002a" />
<line x1="485.8" y1="66.2" x2="485.8" y2="53.5" stroke="#222" stroke-width="1.2"/>
<line x1="477.4" y1="53.5" x2="494.5" y2="53.5" stroke="#222" stroke-width="1.2"/>
<text x="441.01" y="56.8" font-size="7.9" text-anchor="start" fill="#231f20" textLength="27.86" lengthAdjust="spacingAndGlyphs" >p&lt;0.05</text>
<text x="428.86" y="134.2" font-size="8.4" text-anchor="start" fill="#231f20" textLength="12.4" lengthAdjust="spacingAndGlyphs" >WT</text>
<text x="463.46" y="134.2" font-size="8.4" text-anchor="start" fill="#231f20" textLength="45.08" lengthAdjust="spacingAndGlyphs" >Vav-KDM6B</text>
<text transform="translate(372.9 85.82) rotate(-90)" font-size="9.6" text-anchor="start" fill="#231f20" textLength="8.24" lengthAdjust="spacingAndGlyphs" >%</text>
<text transform="translate(385.1 124.1) rotate(-90)" font-size="9.6" text-anchor="start" fill="#231f20" textLength="84.21" lengthAdjust="spacingAndGlyphs" >(BM MK dysplasia)</text>
<line x1="303.5" y1="159.2" x2="303.5" y2="240.1" stroke="#000" stroke-width="1.3"/>
<line x1="300.1" y1="239.5" x2="303.5" y2="239.5" stroke="#000" stroke-width="1.3"/>
<text x="296.4" y="242.52" font-size="8.4" text-anchor="end" fill="#231f20" >0</text>
<line x1="300.1" y1="220.15" x2="303.5" y2="220.15" stroke="#000" stroke-width="1.3"/>
<text x="296.4" y="223.17" font-size="8.4" text-anchor="end" fill="#231f20" >500</text>
<line x1="300.1" y1="200.8" x2="303.5" y2="200.8" stroke="#000" stroke-width="1.3"/>
<text x="296.4" y="203.82" font-size="8.4" text-anchor="end" fill="#231f20" >1000</text>
<line x1="300.1" y1="181.45" x2="303.5" y2="181.45" stroke="#000" stroke-width="1.3"/>
<text x="296.4" y="184.47" font-size="8.4" text-anchor="end" fill="#231f20" >1500</text>
<line x1="300.1" y1="162.1" x2="303.5" y2="162.1" stroke="#000" stroke-width="1.3"/>
<text x="296.4" y="165.12" font-size="8.4" text-anchor="end" fill="#231f20" >2000</text>
<line x1="301.9" y1="229.82" x2="303.5" y2="229.82" stroke="#000" stroke-width="1.3"/>
<line x1="301.9" y1="210.47" x2="303.5" y2="210.47" stroke="#000" stroke-width="1.3"/>
<line x1="301.9" y1="191.12" x2="303.5" y2="191.12" stroke="#000" stroke-width="1.3"/>
<line x1="301.9" y1="171.78" x2="303.5" y2="171.78" stroke="#000" stroke-width="1.3"/>
<line x1="302.9" y1="239.5" x2="417.3" y2="239.5" stroke="#000" stroke-width="1.3"/>
<line x1="336" y1="239.5" x2="336" y2="242.5" stroke="#000" stroke-width="1.3"/>
<line x1="384.7" y1="239.5" x2="384.7" y2="242.5" stroke="#000" stroke-width="1.3"/>
<text x="353.73" y="155" font-size="10.3" text-anchor="start" fill="#231f20" textLength="12.48" lengthAdjust="spacingAndGlyphs" >G1</text>
<text x="348.19" y="168.8" font-size="7.8" text-anchor="start" fill="#231f20" textLength="10.58" lengthAdjust="spacingAndGlyphs" >NS</text>
<text x="330.16" y="253.2" font-size="8.4" text-anchor="start" fill="#231f20" textLength="13.11" lengthAdjust="spacingAndGlyphs" >WT</text>
<text x="361.86" y="252.8" font-size="8.4" text-anchor="start" fill="#231f20" textLength="45.89" lengthAdjust="spacingAndGlyphs" >Vav-KDM6B</text>
<text transform="translate(256.1 234.24) rotate(-90)" font-size="10.4" text-anchor="start" fill="#231f20" textLength="69.81" lengthAdjust="spacingAndGlyphs" >No. of colonies</text>
<text transform="translate(268.8 219) rotate(-90)" font-size="10.4" text-anchor="start" fill="#231f20" textLength="39.93" lengthAdjust="spacingAndGlyphs" >/10<tspan font-size="7.07" dy="-4.68">4</tspan><tspan dy="4.68"> LSK</tspan></text>
<circle cx="333.3" cy="173.3" r="1.65" fill="#1f3d7a"/>
<circle cx="338.2" cy="178" r="1.65" fill="#1f3d7a"/>
<circle cx="331.5" cy="183.6" r="1.65" fill="#1f3d7a"/>
<circle cx="336" cy="186.1" r="1.65" fill="#1f3d7a"/>
<circle cx="342.8" cy="186.1" r="1.65" fill="#1f3d7a"/>
<circle cx="340.5" cy="190.4" r="1.65" fill="#1f3d7a"/>
<circle cx="331.5" cy="193.1" r="1.65" fill="#1f3d7a"/>
<circle cx="336" cy="195.5" r="1.65" fill="#1f3d7a"/>
<circle cx="336" cy="211.6" r="1.65" fill="#1f3d7a"/>
<rect x="383.25" y="180.05" width="2.9" height="2.9" fill="#db8915"/>
<rect x="371.75" y="185.55" width="2.9" height="2.9" fill="#db8915"/>
<rect x="376.35" y="188.15" width="2.9" height="2.9" fill="#db8915"/>
<rect x="380.95" y="190.15" width="2.9" height="2.9" fill="#db8915"/>
<rect x="387.85" y="190.15" width="2.9" height="2.9" fill="#db8915"/>
<rect x="392.45" y="188.15" width="2.9" height="2.9" fill="#db8915"/>
<rect x="397.05" y="187.05" width="2.9" height="2.9" fill="#db8915"/>
<rect x="385.55" y="192.05" width="2.9" height="2.9" fill="#db8915"/>
<rect x="380.95" y="196.35" width="2.9" height="2.9" fill="#db8915"/>
<rect x="378.65" y="200.95" width="2.9" height="2.9" fill="#db8915"/>
<rect x="387.85" y="198.65" width="2.9" height="2.9" fill="#db8915"/>
<rect x="383.25" y="203.25" width="2.9" height="2.9" fill="#db8915"/>
<rect x="383.25" y="212.45" width="2.9" height="2.9" fill="#db8915"/>
<line x1="319.9" y1="189" x2="352.2" y2="189" stroke="#3b5a96" stroke-width="1.3"/>
<line x1="336" y1="185.3" x2="336" y2="192.4" stroke="#222" stroke-width="1.1"/>
<line x1="328.4" y1="185.3" x2="343.8" y2="185.3" stroke="#222" stroke-width="1.1"/>
<line x1="328.4" y1="192.4" x2="343.8" y2="192.4" stroke="#222" stroke-width="1.1"/>
<line x1="368.4" y1="194.7" x2="401.2" y2="194.7" stroke="#db8915" stroke-width="1.3"/>
<line x1="384.7" y1="192.4" x2="384.7" y2="197.3" stroke="#1a2a50" stroke-width="1.1"/>
<line x1="377" y1="192.4" x2="392.7" y2="192.4" stroke="#1a2a50" stroke-width="1.1"/>
<line x1="377" y1="197.3" x2="392.7" y2="197.3" stroke="#1a2a50" stroke-width="1.1"/>
<line x1="303.8" y1="284.6" x2="303.8" y2="367.2" stroke="#000" stroke-width="1.3"/>
<line x1="300.4" y1="366.6" x2="303.8" y2="366.6" stroke="#000" stroke-width="1.3"/>
<text x="297" y="369.62" font-size="8.4" text-anchor="end" fill="#231f20" >0</text>
<line x1="300.4" y1="350.8" x2="303.8" y2="350.8" stroke="#000" stroke-width="1.3"/>
<text x="297" y="353.82" font-size="8.4" text-anchor="end" fill="#231f20" >50</text>
<line x1="300.4" y1="335" x2="303.8" y2="335" stroke="#000" stroke-width="1.3"/>
<text x="297" y="338.02" font-size="8.4" text-anchor="end" fill="#231f20" >100</text>
<line x1="300.4" y1="319.2" x2="303.8" y2="319.2" stroke="#000" stroke-width="1.3"/>
<text x="297" y="322.22" font-size="8.4" text-anchor="end" fill="#231f20" >150</text>
<line x1="300.4" y1="303.4" x2="303.8" y2="303.4" stroke="#000" stroke-width="1.3"/>
<text x="297" y="306.42" font-size="8.4" text-anchor="end" fill="#231f20" >200</text>
<line x1="300.4" y1="287.6" x2="303.8" y2="287.6" stroke="#000" stroke-width="1.3"/>
<text x="297" y="290.62" font-size="8.4" text-anchor="end" fill="#231f20" >250</text>
<line x1="302.2" y1="358.7" x2="303.8" y2="358.7" stroke="#000" stroke-width="1.3"/>
<line x1="302.2" y1="342.9" x2="303.8" y2="342.9" stroke="#000" stroke-width="1.3"/>
<line x1="302.2" y1="327.1" x2="303.8" y2="327.1" stroke="#000" stroke-width="1.3"/>
<line x1="302.2" y1="311.3" x2="303.8" y2="311.3" stroke="#000" stroke-width="1.3"/>
<line x1="302.2" y1="295.5" x2="303.8" y2="295.5" stroke="#000" stroke-width="1.3"/>
<line x1="303.2" y1="366.6" x2="419.2" y2="366.6" stroke="#000" stroke-width="1.3"/>
<line x1="333.5" y1="366.6" x2="333.5" y2="369.6" stroke="#000" stroke-width="1.3"/>
<line x1="388.8" y1="366.6" x2="388.8" y2="369.6" stroke="#000" stroke-width="1.3"/>
<text x="354.69" y="277" font-size="10.3" text-anchor="start" fill="#231f20" textLength="13.5" lengthAdjust="spacingAndGlyphs" >G2</text>
<text x="347.76" y="292.8" font-size="7.9" text-anchor="start" fill="#231f20" textLength="25.58" lengthAdjust="spacingAndGlyphs" >p&lt;0.05</text>
<text x="327.46" y="381.3" font-size="8.4" text-anchor="start" fill="#231f20" textLength="13.01" lengthAdjust="spacingAndGlyphs" >WT</text>
<text x="366.56" y="381.1" font-size="8.4" text-anchor="start" fill="#231f20" textLength="45.08" lengthAdjust="spacingAndGlyphs" >Vav-KDM6B</text>
<text transform="translate(262.3 360.23) rotate(-90)" font-size="10.4" text-anchor="start" fill="#231f20" textLength="68.69" lengthAdjust="spacingAndGlyphs" >No. of colonies</text>
<text transform="translate(274 354.8) rotate(-90)" font-size="10.4" text-anchor="start" fill="#231f20" textLength="58.26" lengthAdjust="spacingAndGlyphs" >/10<tspan font-size="7.07" dy="-4.68">4</tspan><tspan dy="4.68"> G1 cells</tspan></text>
<circle cx="328.9" cy="303.1" r="1.65" fill="#1f3d7a"/>
<circle cx="333.5" cy="303.1" r="1.65" fill="#1f3d7a"/>
<circle cx="338.2" cy="303.1" r="1.65" fill="#1f3d7a"/>
<circle cx="333.5" cy="315.7" r="1.65" fill="#1f3d7a"/>
<circle cx="331.2" cy="331.5" r="1.65" fill="#1f3d7a"/>
<circle cx="336.2" cy="332.6" r="1.65" fill="#1f3d7a"/>
<circle cx="329.2" cy="336.5" r="1.65" fill="#1f3d7a"/>
<circle cx="338.2" cy="337.2" r="1.65" fill="#1f3d7a"/>
<circle cx="333.5" cy="341.1" r="1.65" fill="#1f3d7a"/>
<rect x="387.35" y="317.75" width="2.9" height="2.9" fill="#db8915"/>
<rect x="380.35" y="323.45" width="2.9" height="2.9" fill="#db8915"/>
<rect x="394.25" y="322.75" width="2.9" height="2.9" fill="#db8915"/>
<rect x="389.75" y="324.75" width="2.9" height="2.9" fill="#db8915"/>
<rect x="385.05" y="327.35" width="2.9" height="2.9" fill="#db8915"/>
<rect x="387.35" y="333.95" width="2.9" height="2.9" fill="#db8915"/>
<rect x="389.75" y="335.05" width="2.9" height="2.9" fill="#db8915"/>
<rect x="385.05" y="339.65" width="2.9" height="2.9" fill="#db8915"/>
<rect x="382.75" y="346.25" width="2.9" height="2.9" fill="#db8915"/>
<rect x="392.05" y="346.25" width="2.9" height="2.9" fill="#db8915"/>
<rect x="387.35" y="349.35" width="2.9" height="2.9" fill="#db8915"/>
<rect x="385.05" y="364.75" width="2.9" height="2.9" fill="#db8915"/>
<rect x="389.75" y="362.05" width="2.9" height="2.9" fill="#db8915"/>
<line x1="308.9" y1="322.8" x2="358.8" y2="322.8" stroke="#3b5a96" stroke-width="1.3"/>
<line x1="333.5" y1="317.2" x2="333.5" y2="328.2" stroke="#222" stroke-width="1.1"/>
<line x1="321.2" y1="317.2" x2="346.2" y2="317.2" stroke="#222" stroke-width="1.1"/>
<line x1="321.2" y1="328.2" x2="346.2" y2="328.2" stroke="#222" stroke-width="1.1"/>
<line x1="364.2" y1="339.5" x2="413.8" y2="339.5" stroke="#db8915" stroke-width="1.3"/>
<line x1="388.8" y1="335.4" x2="388.8" y2="343.5" stroke="#222" stroke-width="1.1"/>
<line x1="376.5" y1="335.4" x2="401.1" y2="335.4" stroke="#222" stroke-width="1.1"/>
<line x1="376.5" y1="343.5" x2="401.1" y2="343.5" stroke="#222" stroke-width="1.1"/>
<line x1="303.3" y1="436" x2="303.3" y2="518.8" stroke="#000" stroke-width="1.3"/>
<line x1="299.9" y1="518.2" x2="303.3" y2="518.2" stroke="#000" stroke-width="1.3"/>
<text x="296.3" y="521.22" font-size="8.4" text-anchor="end" fill="#231f20" >2</text>
<line x1="299.9" y1="505.2" x2="303.3" y2="505.2" stroke="#000" stroke-width="1.3"/>
<text x="296.3" y="508.22" font-size="8.4" text-anchor="end" fill="#231f20" >4</text>
<line x1="299.9" y1="492.2" x2="303.3" y2="492.2" stroke="#000" stroke-width="1.3"/>
<text x="296.3" y="495.22" font-size="8.4" text-anchor="end" fill="#231f20" >6</text>
<line x1="299.9" y1="479.2" x2="303.3" y2="479.2" stroke="#000" stroke-width="1.3"/>
<text x="296.3" y="482.22" font-size="8.4" text-anchor="end" fill="#231f20" >8</text>
<line x1="299.9" y1="466.2" x2="303.3" y2="466.2" stroke="#000" stroke-width="1.3"/>
<text x="296.3" y="469.22" font-size="8.4" text-anchor="end" fill="#231f20" >10</text>
<line x1="299.9" y1="453.2" x2="303.3" y2="453.2" stroke="#000" stroke-width="1.3"/>
<text x="296.3" y="456.22" font-size="8.4" text-anchor="end" fill="#231f20" >12</text>
<line x1="299.9" y1="440.2" x2="303.3" y2="440.2" stroke="#000" stroke-width="1.3"/>
<text x="296.3" y="443.22" font-size="8.4" text-anchor="end" fill="#231f20" >14</text>
<line x1="302.7" y1="518" x2="429.7" y2="518" stroke="#000" stroke-width="1.3"/>
<line x1="303.3" y1="518" x2="303.3" y2="521" stroke="#000" stroke-width="1.3"/>
<line x1="323.7" y1="518" x2="323.7" y2="521" stroke="#000" stroke-width="1.3"/>
<line x1="344.1" y1="518" x2="344.1" y2="521" stroke="#000" stroke-width="1.3"/>
<line x1="364.5" y1="518" x2="364.5" y2="521" stroke="#000" stroke-width="1.3"/>
<line x1="384.9" y1="518" x2="384.9" y2="521" stroke="#000" stroke-width="1.3"/>
<line x1="405.3" y1="518" x2="405.3" y2="521" stroke="#000" stroke-width="1.3"/>
<line x1="425.7" y1="518" x2="425.7" y2="521" stroke="#000" stroke-width="1.3"/>
<text x="303.3" y="533.3" font-size="8.5" text-anchor="middle" fill="#231f20" >0</text>
<text x="323.7" y="533.3" font-size="8.5" text-anchor="middle" fill="#231f20" >2</text>
<text x="344.1" y="533.3" font-size="8.5" text-anchor="middle" fill="#231f20" >4</text>
<text x="364.5" y="533.3" font-size="8.5" text-anchor="middle" fill="#231f20" >6</text>
<text x="384.9" y="533.3" font-size="8.5" text-anchor="middle" fill="#231f20" >8</text>
<text x="405.3" y="533.3" font-size="8.5" text-anchor="middle" fill="#231f20" >10</text>
<text x="425.7" y="533.3" font-size="8.5" text-anchor="middle" fill="#231f20" >12</text>
<text x="350.37" y="546.8" font-size="10" text-anchor="start" fill="#231f20" textLength="32.17" lengthAdjust="spacingAndGlyphs" >Month</text>
<text x="356.15" y="429.2" font-size="10.3" text-anchor="start" fill="#231f20" textLength="21.09" lengthAdjust="spacingAndGlyphs" >WBC</text>
<text transform="translate(279.5 498.13) rotate(-90)" font-size="10.3" text-anchor="start" fill="#231f20" textLength="42.24" lengthAdjust="spacingAndGlyphs" >10<tspan font-size="7" dy="-4.64">3</tspan><tspan dy="4.64">/mm</tspan><tspan font-size="7" dy="-4.64">3</tspan></text>
<line x1="309.2" y1="442.9" x2="317.7" y2="442.9" stroke="#6aa843" stroke-width="1.3"/>
<circle cx="313.5" cy="442.9" r="1.3" fill="#6aa843"/>
<text x="323.06" y="445.8" font-size="8.4" text-anchor="start" fill="#231f20" textLength="22.2" lengthAdjust="spacingAndGlyphs" >WT-TP</text>
<line x1="365.3" y1="443.1" x2="373.7" y2="443.1" stroke="#a3002a" stroke-width="1.3"/>
<rect x="368.3" y="441.9" width="2.4" height="2.4" fill="#a3002a"/>
<text x="379.46" y="445.9" font-size="8.4" text-anchor="start" fill="#231f20" textLength="52.84" lengthAdjust="spacingAndGlyphs" >Vav-KDM6B-TP</text>
<line x1="323.7" y1="493.4" x2="323.7" y2="505.7" stroke="#222" stroke-width="1"/>
<line x1="322" y1="493.4" x2="325.4" y2="493.4" stroke="#222" stroke-width="1.1"/>
<line x1="322" y1="505.7" x2="325.4" y2="505.7" stroke="#222" stroke-width="1.1"/>
<line x1="323.7" y1="499" x2="323.7" y2="505.7" stroke="#222" stroke-width="1"/>
<line x1="322" y1="499" x2="325.4" y2="499" stroke="#222" stroke-width="1.1"/>
<line x1="322" y1="505.7" x2="325.4" y2="505.7" stroke="#222" stroke-width="1.1"/>
<line x1="344.1" y1="464.5" x2="344.1" y2="481.5" stroke="#222" stroke-width="1"/>
<line x1="342.4" y1="464.5" x2="345.8" y2="464.5" stroke="#222" stroke-width="1.1"/>
<line x1="342.4" y1="481.5" x2="345.8" y2="481.5" stroke="#222" stroke-width="1.1"/>
<line x1="344.1" y1="481.5" x2="344.1" y2="490.3" stroke="#222" stroke-width="1"/>
<line x1="342.4" y1="481.5" x2="345.8" y2="481.5" stroke="#222" stroke-width="1.1"/>
<line x1="342.4" y1="490.3" x2="345.8" y2="490.3" stroke="#222" stroke-width="1.1"/>
<line x1="384.9" y1="463.1" x2="384.9" y2="482.5" stroke="#222" stroke-width="1"/>
<line x1="383.2" y1="463.1" x2="386.6" y2="463.1" stroke="#222" stroke-width="1.1"/>
<line x1="383.2" y1="482.5" x2="386.6" y2="482.5" stroke="#222" stroke-width="1.1"/>
<line x1="384.9" y1="477.4" x2="384.9" y2="487.7" stroke="#222" stroke-width="1"/>
<line x1="383.2" y1="477.4" x2="386.6" y2="477.4" stroke="#222" stroke-width="1.1"/>
<line x1="383.2" y1="487.7" x2="386.6" y2="487.7" stroke="#222" stroke-width="1.1"/>
<line x1="425.7" y1="459.5" x2="425.7" y2="489" stroke="#222" stroke-width="1"/>
<line x1="424" y1="459.5" x2="427.4" y2="459.5" stroke="#222" stroke-width="1.1"/>
<line x1="424" y1="489" x2="427.4" y2="489" stroke="#222" stroke-width="1.1"/>
<line x1="425.7" y1="487.8" x2="425.7" y2="491.8" stroke="#222" stroke-width="1"/>
<line x1="424" y1="487.8" x2="427.4" y2="487.8" stroke="#222" stroke-width="1.1"/>
<line x1="424" y1="491.8" x2="427.4" y2="491.8" stroke="#222" stroke-width="1.1"/>
<polyline points="323.7,498.9 344.1,473.1 384.9,472.8 425.7,474.3" fill="none" stroke="#6aa843" stroke-width="1.4" stroke-linejoin="miter"/>
<polyline points="323.7,502.3 344.1,486.9 384.9,482.6 425.7,490" fill="none" stroke="#a3002a" stroke-width="1.4" stroke-linejoin="miter"/>
<circle cx="323.7" cy="498.9" r="1.3" fill="#6aa843"/>
<circle cx="344.1" cy="473.1" r="1.3" fill="#6aa843"/>
<circle cx="384.9" cy="472.8" r="1.3" fill="#6aa843"/>
<circle cx="425.7" cy="474.3" r="1.3" fill="#6aa843"/>
<rect x="322.5" y="501.1" width="2.4" height="2.4" fill="#a3002a"/>
<rect x="342.9" y="485.7" width="2.4" height="2.4" fill="#a3002a"/>
<rect x="383.7" y="481.4" width="2.4" height="2.4" fill="#a3002a"/>
<rect x="424.5" y="488.8" width="2.4" height="2.4" fill="#a3002a"/>
<text x="339.58" y="499.5" font-size="7.6" text-anchor="start" fill="#231f20" textLength="20.39" lengthAdjust="spacingAndGlyphs" >p=0.1</text>
<text x="374.86" y="500" font-size="7.6" text-anchor="start" fill="#231f20" textLength="20.91" lengthAdjust="spacingAndGlyphs" >p=0.1</text>
<text x="413.79" y="506.6" font-size="7.6" text-anchor="start" fill="#231f20" textLength="19.97" lengthAdjust="spacingAndGlyphs" >p=0.1</text>
<line x1="303.3" y1="585.1" x2="303.3" y2="666.8" stroke="#000" stroke-width="1.3"/>
<line x1="299.9" y1="666.1" x2="303.3" y2="666.1" stroke="#000" stroke-width="1.3"/>
<text x="296" y="668.94" font-size="7.9" text-anchor="end" fill="#231f20" >0.00</text>
<line x1="299.9" y1="650.55" x2="303.3" y2="650.55" stroke="#000" stroke-width="1.3"/>
<text x="296" y="653.39" font-size="7.9" text-anchor="end" fill="#231f20" >0.02</text>
<line x1="299.9" y1="635" x2="303.3" y2="635" stroke="#000" stroke-width="1.3"/>
<text x="296" y="637.84" font-size="7.9" text-anchor="end" fill="#231f20" >0.04</text>
<line x1="299.9" y1="619.45" x2="303.3" y2="619.45" stroke="#000" stroke-width="1.3"/>
<text x="296" y="622.29" font-size="7.9" text-anchor="end" fill="#231f20" >0.06</text>
<line x1="299.9" y1="603.9" x2="303.3" y2="603.9" stroke="#000" stroke-width="1.3"/>
<text x="296" y="606.74" font-size="7.9" text-anchor="end" fill="#231f20" >0.08</text>
<line x1="299.9" y1="588.35" x2="303.3" y2="588.35" stroke="#000" stroke-width="1.3"/>
<text x="296" y="591.19" font-size="7.9" text-anchor="end" fill="#231f20" >0.10</text>
<line x1="301.7" y1="658.33" x2="303.3" y2="658.33" stroke="#000" stroke-width="1.3"/>
<line x1="301.7" y1="642.77" x2="303.3" y2="642.77" stroke="#000" stroke-width="1.3"/>
<line x1="301.7" y1="627.23" x2="303.3" y2="627.23" stroke="#000" stroke-width="1.3"/>
<line x1="301.7" y1="611.68" x2="303.3" y2="611.68" stroke="#000" stroke-width="1.3"/>
<line x1="301.7" y1="596.12" x2="303.3" y2="596.12" stroke="#000" stroke-width="1.3"/>
<line x1="302.7" y1="666.2" x2="421.3" y2="666.2" stroke="#000" stroke-width="1.3"/>
<line x1="337.3" y1="666.2" x2="337.3" y2="669.2" stroke="#000" stroke-width="1.3"/>
<line x1="387" y1="666.2" x2="387" y2="669.2" stroke="#000" stroke-width="1.3"/>
<rect x="315.3" y="608.5" width="43.7" height="57.7" fill="#2d4a7b" />
<line x1="337.2" y1="608.5" x2="337.2" y2="599.6" stroke="#222" stroke-width="1.2"/>
<line x1="326.5" y1="599.6" x2="348.5" y2="599.6" stroke="#222" stroke-width="1.2"/>
<rect x="365" y="646.1" width="43.9" height="20.1" fill="#db8915" />
<line x1="386.9" y1="646.1" x2="386.9" y2="641.5" stroke="#222" stroke-width="1.2"/>
<line x1="376" y1="641.5" x2="397.7" y2="641.5" stroke="#222" stroke-width="1.2"/>
<text x="353.23" y="578.5" font-size="10.3" text-anchor="start" fill="#231f20" textLength="18.17" lengthAdjust="spacingAndGlyphs" >LSK</text>
<text x="348.12" y="593.3" font-size="7.9" text-anchor="start" fill="#231f20" textLength="27.34" lengthAdjust="spacingAndGlyphs" >p&lt;0.05</text>
<text x="324.96" y="680" font-size="8.4" text-anchor="start" fill="#231f20" textLength="24.94" lengthAdjust="spacingAndGlyphs" >WT-TP</text>
<text x="359.96" y="680" font-size="8.4" text-anchor="start" fill="#231f20" textLength="57.98" lengthAdjust="spacingAndGlyphs" >Vav-KDM6B-TP</text>
<text transform="translate(271.3 659.74) rotate(-90)" font-size="9.8" text-anchor="start" fill="#231f20" textLength="68.66" lengthAdjust="spacingAndGlyphs" >% of LSK in BM</text>
<line x1="303.6" y1="711.9" x2="303.6" y2="794.4" stroke="#000" stroke-width="1.3"/>
<line x1="300.2" y1="793.8" x2="303.6" y2="793.8" stroke="#000" stroke-width="1.3"/>
<text x="297.2" y="796.82" font-size="8.4" text-anchor="end" fill="#231f20" >0</text>
<line x1="300.2" y1="774" x2="303.6" y2="774" stroke="#000" stroke-width="1.3"/>
<text x="297.2" y="777.02" font-size="8.4" text-anchor="end" fill="#231f20" >10</text>
<line x1="300.2" y1="754.2" x2="303.6" y2="754.2" stroke="#000" stroke-width="1.3"/>
<text x="297.2" y="757.22" font-size="8.4" text-anchor="end" fill="#231f20" >20</text>
<line x1="300.2" y1="734.4" x2="303.6" y2="734.4" stroke="#000" stroke-width="1.3"/>
<text x="297.2" y="737.42" font-size="8.4" text-anchor="end" fill="#231f20" >30</text>
<line x1="300.2" y1="714.6" x2="303.6" y2="714.6" stroke="#000" stroke-width="1.3"/>
<text x="297.2" y="717.62" font-size="8.4" text-anchor="end" fill="#231f20" >40</text>
<line x1="302" y1="783.9" x2="303.6" y2="783.9" stroke="#000" stroke-width="1.3"/>
<line x1="302" y1="764.1" x2="303.6" y2="764.1" stroke="#000" stroke-width="1.3"/>
<line x1="302" y1="744.3" x2="303.6" y2="744.3" stroke="#000" stroke-width="1.3"/>
<line x1="302" y1="724.5" x2="303.6" y2="724.5" stroke="#000" stroke-width="1.3"/>
<line x1="303" y1="793.8" x2="418.8" y2="793.8" stroke="#000" stroke-width="1.3"/>
<line x1="336.8" y1="793.8" x2="336.8" y2="796.8" stroke="#000" stroke-width="1.3"/>
<line x1="385" y1="793.8" x2="385" y2="796.8" stroke="#000" stroke-width="1.3"/>
<rect x="315.4" y="730.8" width="42.7" height="63" fill="#2d4a7b" />
<line x1="337" y1="730.8" x2="337" y2="726.9" stroke="#222" stroke-width="1.2"/>
<line x1="326.2" y1="726.9" x2="347.7" y2="726.9" stroke="#222" stroke-width="1.2"/>
<rect x="363.9" y="748.8" width="42.7" height="45" fill="#db8915" />
<line x1="385.3" y1="748.8" x2="385.3" y2="743" stroke="#222" stroke-width="1.2"/>
<line x1="374.3" y1="743" x2="396.2" y2="743" stroke="#222" stroke-width="1.2"/>
<text x="348.75" y="705.4" font-size="10.3" text-anchor="start" fill="#231f20" textLength="24.92" lengthAdjust="spacingAndGlyphs" >Gr1+</text>
<text x="347.12" y="720.4" font-size="7.9" text-anchor="start" fill="#231f20" textLength="27.55" lengthAdjust="spacingAndGlyphs" >p&lt;0.05</text>
<text x="324.46" y="807.5" font-size="8.4" text-anchor="start" fill="#231f20" textLength="24.74" lengthAdjust="spacingAndGlyphs" >WT-TP</text>
<text x="357.96" y="807.5" font-size="8.4" text-anchor="start" fill="#231f20" textLength="57.48" lengthAdjust="spacingAndGlyphs" >Vav-KDM6B-TP</text>
<text transform="translate(279.8 796.36) rotate(-90)" font-size="10" text-anchor="start" fill="#231f20" textLength="82.54" lengthAdjust="spacingAndGlyphs" >% Gr1+ cell in BM</text>
<rect x="0" y="0" width="520" height="1.2" fill="#000"/>
<rect x="0" y="0" width="1.7" height="819" fill="#444"/>
<rect x="518.5" y="0" width="1.5" height="819" fill="#000"/>
<rect x="0" y="817.6" width="520" height="1.4" fill="#000"/>
</svg>
</body></html>
